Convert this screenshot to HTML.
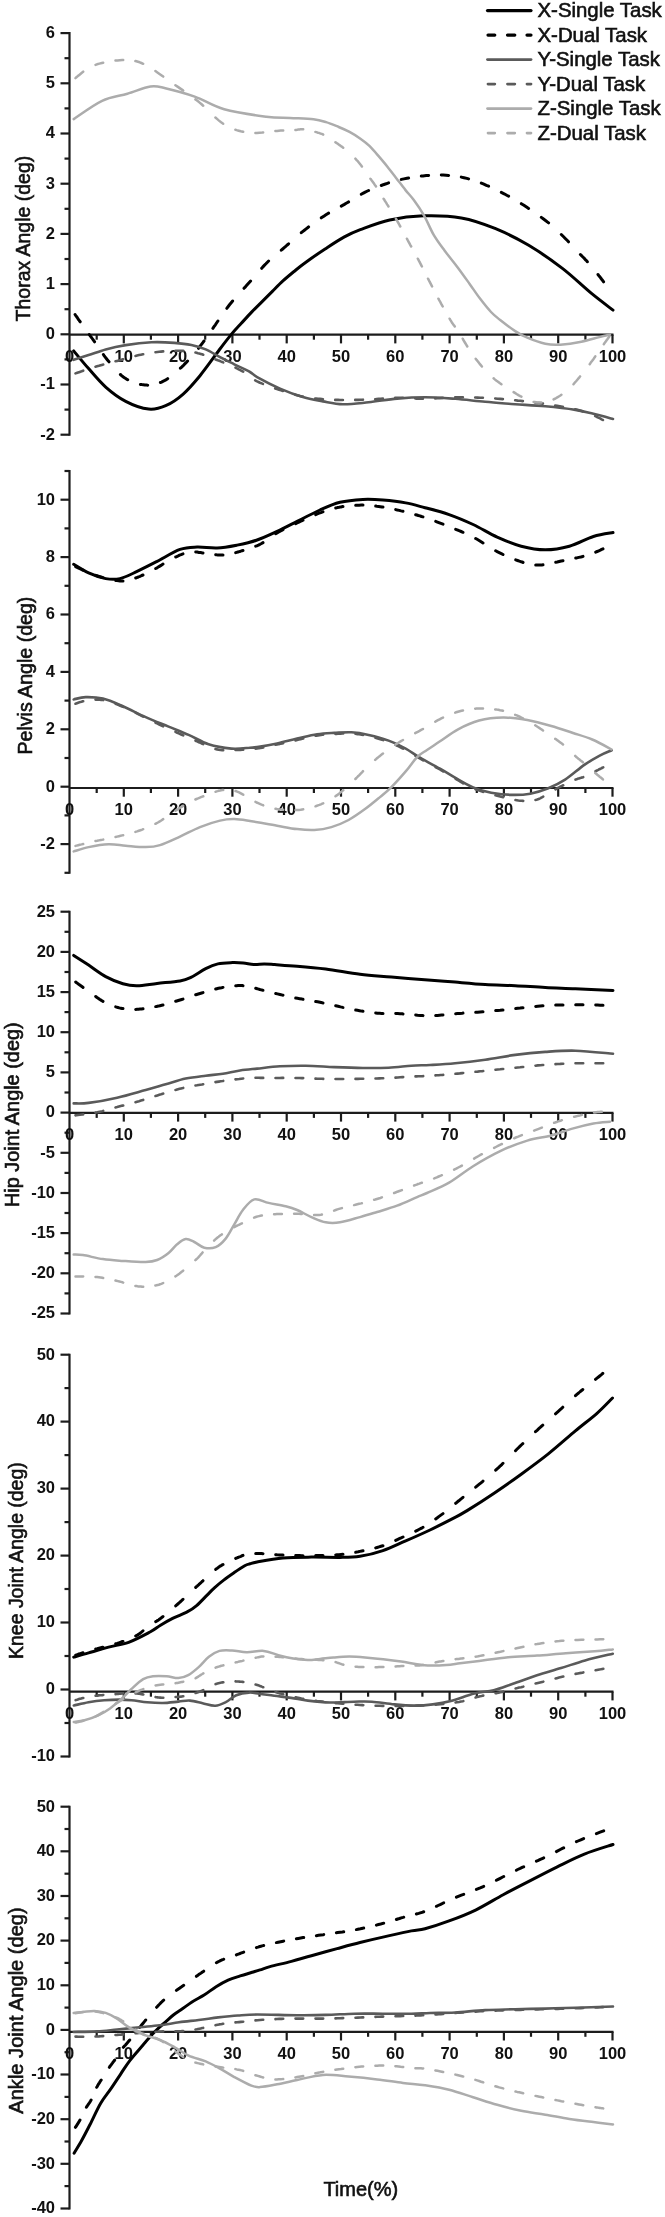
<!DOCTYPE html>
<html><head><meta charset="utf-8"><title>Joint angles</title>
<style>
html,body{margin:0;padding:0;background:#fff;}
body{width:665px;height:2217px;overflow:hidden;}
svg{display:block;filter:blur(0.5px);}
.ax{stroke:#1c1c1c;stroke-width:2.2;fill:none;}
path{fill:none;stroke-linejoin:round;stroke-linecap:round;}
.dsh{stroke-linecap:butt;}
text{font-family:"Liberation Sans",Arial,sans-serif;fill:#111;}
.tl{font-size:16.5px;font-weight:bold;}
.ti{font-size:20px;stroke:#111;stroke-width:0.6px;}
.lg{font-size:20.4px;stroke:#111;stroke-width:0.6px;}
</style></head><body>
<svg width="665" height="2217" viewBox="0 0 665 2217">
<g><line x1="69.5" y1="32.1" x2="69.5" y2="435.7" class="ax"/>
<line x1="60.5" y1="434.7" x2="69.5" y2="434.7" class="ax"/>
<text x="55" y="439.5" class="tl" text-anchor="end">-2</text>
<line x1="64.5" y1="409.6" x2="69.5" y2="409.6" class="ax"/>
<line x1="60.5" y1="384.5" x2="69.5" y2="384.5" class="ax"/>
<text x="55" y="389.3" class="tl" text-anchor="end">-1</text>
<line x1="64.5" y1="359.4" x2="69.5" y2="359.4" class="ax"/>
<line x1="60.5" y1="334.3" x2="69.5" y2="334.3" class="ax"/>
<text x="55" y="339.1" class="tl" text-anchor="end">0</text>
<line x1="64.5" y1="309.2" x2="69.5" y2="309.2" class="ax"/>
<line x1="60.5" y1="284.1" x2="69.5" y2="284.1" class="ax"/>
<text x="55" y="288.9" class="tl" text-anchor="end">1</text>
<line x1="64.5" y1="259" x2="69.5" y2="259" class="ax"/>
<line x1="60.5" y1="233.9" x2="69.5" y2="233.9" class="ax"/>
<text x="55" y="238.7" class="tl" text-anchor="end">2</text>
<line x1="64.5" y1="208.8" x2="69.5" y2="208.8" class="ax"/>
<line x1="60.5" y1="183.7" x2="69.5" y2="183.7" class="ax"/>
<text x="55" y="188.5" class="tl" text-anchor="end">3</text>
<line x1="64.5" y1="158.6" x2="69.5" y2="158.6" class="ax"/>
<line x1="60.5" y1="133.5" x2="69.5" y2="133.5" class="ax"/>
<text x="55" y="138.3" class="tl" text-anchor="end">4</text>
<line x1="64.5" y1="108.4" x2="69.5" y2="108.4" class="ax"/>
<line x1="60.5" y1="83.3" x2="69.5" y2="83.3" class="ax"/>
<text x="55" y="88.1" class="tl" text-anchor="end">5</text>
<line x1="64.5" y1="58.2" x2="69.5" y2="58.2" class="ax"/>
<line x1="60.5" y1="33.1" x2="69.5" y2="33.1" class="ax"/>
<text x="55" y="37.9" class="tl" text-anchor="end">6</text>
<line x1="69.5" y1="334.7" x2="613.5" y2="334.7" class="ax"/>
<text x="69.5" y="361.5" class="tl" text-anchor="middle">0</text>
<line x1="96.7" y1="334.7" x2="96.7" y2="339.7" class="ax"/>
<line x1="123.8" y1="334.7" x2="123.8" y2="343.4" class="ax"/>
<text x="123.8" y="361.5" class="tl" text-anchor="middle">10</text>
<line x1="150.9" y1="334.7" x2="150.9" y2="339.7" class="ax"/>
<line x1="178.1" y1="334.7" x2="178.1" y2="343.4" class="ax"/>
<text x="178.1" y="361.5" class="tl" text-anchor="middle">20</text>
<line x1="205.2" y1="334.7" x2="205.2" y2="339.7" class="ax"/>
<line x1="232.4" y1="334.7" x2="232.4" y2="343.4" class="ax"/>
<text x="232.4" y="361.5" class="tl" text-anchor="middle">30</text>
<line x1="259.5" y1="334.7" x2="259.5" y2="339.7" class="ax"/>
<line x1="286.7" y1="334.7" x2="286.7" y2="343.4" class="ax"/>
<text x="286.7" y="361.5" class="tl" text-anchor="middle">40</text>
<line x1="313.9" y1="334.7" x2="313.9" y2="339.7" class="ax"/>
<line x1="341" y1="334.7" x2="341" y2="343.4" class="ax"/>
<text x="341" y="361.5" class="tl" text-anchor="middle">50</text>
<line x1="368.1" y1="334.7" x2="368.1" y2="339.7" class="ax"/>
<line x1="395.3" y1="334.7" x2="395.3" y2="343.4" class="ax"/>
<text x="395.3" y="361.5" class="tl" text-anchor="middle">60</text>
<line x1="422.4" y1="334.7" x2="422.4" y2="339.7" class="ax"/>
<line x1="449.6" y1="334.7" x2="449.6" y2="343.4" class="ax"/>
<text x="449.6" y="361.5" class="tl" text-anchor="middle">70</text>
<line x1="476.8" y1="334.7" x2="476.8" y2="339.7" class="ax"/>
<line x1="503.9" y1="334.7" x2="503.9" y2="343.4" class="ax"/>
<text x="503.9" y="361.5" class="tl" text-anchor="middle">80</text>
<line x1="531" y1="334.7" x2="531" y2="339.7" class="ax"/>
<line x1="558.2" y1="334.7" x2="558.2" y2="343.4" class="ax"/>
<text x="558.2" y="361.5" class="tl" text-anchor="middle">90</text>
<line x1="585.4" y1="334.7" x2="585.4" y2="339.7" class="ax"/>
<line x1="612.5" y1="334.7" x2="612.5" y2="343.4" class="ax"/>
<text x="612.5" y="361.5" class="tl" text-anchor="middle">100</text>
<text transform="translate(29.8 238.6) rotate(-90)" class="ti" text-anchor="middle" textLength="165.6" lengthAdjust="spacingAndGlyphs">Thorax Angle (deg)</text>
<path d="M73.7 350.9C76.2 353.9 83.3 362.6 88.6 368.6C93.9 374.6 99.5 381.6 105.7 387.1C111.9 392.6 118.6 397.7 125.7 401.4C132.8 405.1 141.9 408.4 148.6 409.1C155.3 409.8 160 408.2 165.7 405.7C171.4 403.2 177.2 399.3 182.9 394.3C188.6 389.3 193.9 383.1 200 375.7C206.1 368.3 214 356.9 219.2 350C224.4 343.1 227.7 338.8 231.3 334.4C235 330 237.7 327.2 241.1 323.5C244.5 319.8 248.1 315.8 251.6 312.1C255.1 308.5 258.6 305.1 262.1 301.6C265.6 298.1 269.1 294.6 272.6 291.1C276.1 287.6 279.6 284 283.2 280.7C286.8 277.4 290.2 274.6 294 271.5C297.8 268.4 300.7 265.9 305.9 262.2C311.1 258.4 318.7 253.2 325.1 249C331.5 244.8 338.5 240.1 344.4 236.9C350.3 233.7 352.8 232.5 360.3 229.7C367.9 226.9 379.2 222.3 389.7 220C400.2 217.7 411.5 216.2 423.4 215.8C435.3 215.5 449.4 215.8 461.3 217.9C473.2 220 483.8 223.8 495 228.4C506.2 233 517.5 238.6 528.7 245.3C539.9 252 551.9 260.3 562.4 268.4C572.9 276.5 583.4 286.8 591.8 293.7C600.2 300.6 609.5 307.4 613 310.1" stroke="#000" stroke-width="3.0"/>
<path d="M75.1 314.5 L75.6 315.3 L76.4 316.4 L77.2 317.5 L78 318.8 L78.9 320 L79.8 321.3 L80.2 321.8M89.3 334.5 L90.2 335.8 L91.2 337.1 L92.2 338.5 L93.2 339.9 L94.3 341.4 L94.6 341.8M103.4 354.5 L104.1 355.6 L105.4 357.3 L106.7 359 L107.9 360.6 L109 361.8M120.4 374.5 L121.9 375.8 L123.4 377 L124.9 378.1 L126.5 379.1 L127.7 379.8M140.4 384.4 L141.7 384.6 L143.3 384.8 L144.9 385 L146.5 385.1 L147.7 385.2M160.4 382.5 L161.5 382.1 L162.9 381.4 L164.3 380.7 L165.8 379.9 L167.2 379 L167.7 378.6M180.4 368.2 L181.4 367.3 L182.9 365.9 L184.3 364.4 L185.8 362.9 L187.2 361.4 L187.6 361M198.5 348.3 L199.7 346.7 L200.9 345.1 L202.2 343.5 L203.4 341.8 L204 341M212.9 328.3 L214 326.7 L215.4 324.8 L216.7 322.8 L217.9 321M226.8 308.3 L228.2 306.5 L229.7 304.5 L231.2 302.7 L232.6 301M244 288.3 L244.9 287.4 L246.5 285.6 L248.1 283.8 L249.7 282 L250.6 281M261.7 268.3 L262.7 267.1 L264.3 265.4 L265.9 263.8 L267.4 262.2 L268.6 261M281.3 250.2 L282.7 249 L284.2 247.7 L285.7 246.4 L287.2 245 L288.6 243.8M301.3 232.7 L302.6 231.6 L304.4 230.2 L306.1 228.9 L307.9 227.5 L308.6 226.9M321.3 217.8 L322.5 217 L324.2 215.9 L325.9 214.8 L327.6 213.7 L328.6 213.1M341.3 206.1 L342.6 205.4 L344.4 204.4 L346.2 203.3 L348.1 202.2 L348.6 201.9M361.3 194.2 L362.9 193.3 L365.2 192.1 L367.5 191 L368.6 190.5M381.3 185.5 L383.3 184.7 L386.1 183.8 L388.6 182.9M401.3 179.4 L403.9 178.9 L407 178.3 L408.6 178M421.3 176.1 L423 175.9 L426.2 175.6 L428.6 175.4M441.3 175 L443.2 175.1 L446.1 175.2 L448.6 175.4M461.3 177.1 L464 177.7 L466.8 178.4 L468.6 178.9M481.3 183.1 L483.3 183.9 L486.4 185.3 L488.6 186.2M501.3 192.4 L504.1 193.8 L507.2 195.5 L508.6 196.2M521.3 203.7 L523.9 205.3 L526.9 207.3 L528.6 208.4M541.3 217.4 L543.2 218.8 L545.5 220.5 L547.6 222.1 L548.6 222.9M561.3 234.5 L562.3 235.5 L563.6 236.8 L565 238.2 L566.3 239.5 L567.6 240.8 L568.5 241.8M580.4 254.5 L581.3 255.4 L582.1 256.2 L582.9 257 L583.7 257.8 L584.5 258.6 L585.2 259.4 L585.9 260.2 L586.7 260.9 L587.4 261.7 L587.4 261.8M598 274.5 L598.6 275.3 L599.2 276.1 L599.9 276.9 L600.5 277.7 L601.1 278.6 L601.8 279.4 L602.4 280.3 L603.1 281.1 L603.6 281.8" stroke="#000" stroke-width="3.0"/>
<path d="M73.7 359.8C76.2 359 83.3 356.8 88.6 355.1C93.9 353.4 99.5 351.1 105.7 349.4C111.9 347.7 118.1 346.3 125.7 345.1C133.3 343.9 143.3 342.7 151.4 342.3C159.5 341.9 167.6 342.4 174.3 342.9C181 343.4 186.2 344 191.4 345.1C196.6 346.2 200.9 347.4 205.7 349.4C210.5 351.4 215.2 354.6 220 357.1C224.8 359.6 229.3 361.8 234.3 364.3C239.3 366.8 246.2 369.9 250 372C253.8 374.1 252.1 374.3 257.1 377.1C262.1 379.9 272.4 385.3 280 388.6C287.6 391.9 295.8 395 302.9 397.1C310 399.2 316.2 400.2 322.9 401.4C329.6 402.6 335.3 404.1 342.9 404.3C350.5 404.5 359.6 403.2 368.6 402.3C377.6 401.4 387.7 399.4 397.1 398.6C406.5 397.8 415.3 397.3 425 397.3C434.7 397.3 445.1 398.1 455.1 398.8C465.1 399.6 475.2 400.9 485.2 401.8C495.2 402.7 505.2 403.4 515.2 404.2C525.2 404.9 535.3 405.4 545.3 406.3C555.3 407.2 567.4 408.6 575.4 409.9C583.4 411.1 587.1 412.3 593.4 413.8C599.7 415.3 609.7 418.1 613 419" stroke="#5a5a5a" stroke-width="2.6"/>
<path d="M75.5 373.4 L76.6 373 L78.1 372.5 L79.8 371.9 L81.6 371.3 L83.2 370.7M95.5 366.7 L97 366.3 L98.9 365.8 L100.8 365.2 L102.7 364.7 L103.2 364.6M115.5 361.3 L117.1 360.9 L119 360.4 L120.9 359.9 L122.8 359.3 L123.2 359.2M135.5 355.9 L137.1 355.5 L139 355.1 L141 354.7 L142.9 354.3 L143.2 354.3M155.5 352.2 L157.4 352 L159.3 351.8 L161.1 351.6 L162.9 351.4 L163.2 351.4M175.5 350.7 L176.6 350.7 L178.2 350.7 L179.8 350.8 L181.3 350.8 L182.9 350.9 L183.2 350.9M195.5 352.6 L196.5 352.8 L197.9 353.2 L199.3 353.5 L200.7 353.9 L202.1 354.3 L203.2 354.7M215.5 359.4 L216.4 359.7 L217.8 360.3 L219.3 360.8 L220.7 361.4 L222.2 362 L223.2 362.4M235.5 367.7 L236.4 368.1 L237.8 368.8 L239.2 369.6 L240.7 370.3 L242.1 371.1 L243.2 371.7M255.2 380.4 L256 380.8 L257.1 381.4 L258.5 382 L260 382.7 L261.7 383.4 L262.9 383.9M275.2 388.4 L277 389 L279 389.7 L281 390.3 L282.9 390.9 L282.9 391M295.2 394.7 L296.2 395 L298.1 395.5 L300 396 L301.9 396.4 L302.9 396.6M315.2 398.5 L316.2 398.6 L318.1 398.8 L320 398.9 L321.9 399.1 L322.9 399.2M335.2 399.9 L336.2 399.9 L338.1 399.9 L340 400 L341.9 400 L342.9 400M355.2 399.9 L357 399.9 L358.9 399.9 L360.8 399.8 L362.6 399.8 L362.9 399.7M375.2 399.2 L376.5 399.1 L378.6 398.9 L380.7 398.7 L382.9 398.5 L382.9 398.5M395.2 397.7 L397.1 397.7 L399.3 397.7 L401.6 397.8 L402.9 397.8M415.2 398.5 L416.6 398.6 L419 398.7 L421.4 398.8 L422.9 398.8M435.2 398.4 L437.4 398.3 L439.9 398.1 L442.4 397.9 L442.9 397.9M455.2 397.3 L457.6 397.3 L460.1 397.3 L462.6 397.3 L462.9 397.3M475.2 397.5 L477.7 397.6 L480.2 397.7 L482.7 397.8 L482.9 397.8M495.2 398.5 L497.7 398.7 L500.2 398.9 L502.7 399.1 L502.9 399.1M515.2 400.3 L517.7 400.6 L520.2 400.8 L522.7 401.1 L522.9 401.1M535.2 402.5 L536.5 402.7 L539 403 L541.5 403.4 L542.9 403.6M555.2 405.5 L557.1 405.8 L559.8 406.2 L562.4 406.7 L562.9 406.8M575.2 409.3 L576.4 409.5 L578.3 410 L580 410.5 L581.7 411 L582.9 411.4M595.2 416.1 L595.9 416.4 L597.1 417 L598.3 417.6 L599.5 418.1 L600.6 418.7 L601.6 419.3 L602.6 419.8 L602.9 420" stroke="#5a5a5a" stroke-width="2.6"/>
<path d="M73.7 119.1C78.4 116 93.1 105 102.1 100.8C111 96.6 119.3 96.1 127.4 93.7C135.5 91.3 144.2 87.4 150.5 86.5C156.8 85.6 157.9 86.5 165.3 88.2C172.7 89.9 184.9 93.1 194.7 96.6C204.5 100.1 212.3 105.9 224.2 109.3C236.1 112.7 255.3 115.3 266.3 116.8C277.3 118.2 282.1 117.6 290 118C297.9 118.4 307.5 118.5 313.5 119.2C319.5 119.9 321.9 120.8 326.1 122.1C330.3 123.4 334.8 125.4 338.7 127C342.6 128.6 345.9 130 349.5 131.9C353.1 133.8 357.1 136.4 360.4 138.7C363.7 141 366.4 143 369.4 145.9C372.4 148.8 375.4 152.4 378.4 155.9C381.4 159.4 384.4 162.9 387.4 166.7C390.4 170.4 393.5 174.5 396.5 178.4C399.5 182.3 402.6 186.5 405.5 190.1C408.4 193.7 410.7 195.8 413.8 200C416.9 204.2 420.8 209.8 424.1 215.6C427.4 221.4 430.3 229.1 433.7 234.9C437.1 240.7 440.5 245.1 444.5 250.5C448.5 255.9 453.5 261.8 457.7 267.4C461.9 273 466.1 279 469.8 284.2C473.5 289.4 476.5 294 480 298.6C483.5 303.2 487.6 308.4 491 312C494.4 315.6 496.2 316.8 500.2 320C504.2 323.2 510.7 328.2 515.2 331.1C519.7 334.1 522.3 335.6 527.3 337.7C532.3 339.8 539.8 342.6 545.3 343.8C550.8 345 554.3 345.1 560.3 344.7C566.3 344.3 574.9 343 581.4 341.7C587.9 340.4 594.6 338.3 599.4 337.1C604.2 335.9 608.2 335.1 610 334.7" stroke="#acacac" stroke-width="2.5"/>
<path d="M75.5 78.1 L76.4 77.3 L77.8 76.1 L79.3 74.9 L81 73.5 L82.8 72.1 L83.2 71.7M95.5 64.9 L97 64.3 L99.4 63.6 L101.9 63 L103.2 62.7M115.5 60.6 L117.4 60.4 L119.9 60.2 L122.1 60 L123.2 60M135.4 61 L136.4 61.3 L138 61.8 L139.7 62.3 L141.4 63 L143.2 63.8 L143.2 63.8M155.4 71 L157.4 72.4 L159.5 73.9 L161.7 75.5 L163.2 76.6M175.4 85.2 L177.9 86.9 L180.4 88.6 L183 90.4 L183.2 90.6M195.4 99.4 L196.7 100.3 L199 102.1 L201.3 104 L203.2 105.7M215.4 117.5 L217 118.9 L219 120.6 L221.1 122.3 L223.2 123.7 L223.2 123.8M235.4 129.7 L236.6 130.1 L238.7 130.7 L240.8 131.3 L242.9 131.8 L243.2 131.8M255.4 133 L256.9 133 L259.5 132.8 L262.2 132.6 L263.2 132.5M275.4 131 L277 130.9 L278.9 130.7 L280.7 130.6 L282.2 130.5 L283.2 130.5M295.4 129.9 L296.1 129.9 L297 129.8 L297.9 129.6 L298.7 129.5 L299.5 129.4 L300.4 129.3 L301.2 129.3 L302.1 129.2 L303 129.2 L303.2 129.2M315.4 131.9 L316.2 132.1 L317.1 132.4 L318 132.7 L318.8 132.9 L319.6 133.2 L320.3 133.4 L321 133.7 L321.7 133.9 L322.4 134.2 L323.1 134.5 L323.2 134.6M335.4 142.2 L336 142.6 L336.9 143.2 L337.8 143.8 L338.7 144.5 L339.6 145.1 L340.5 145.7 L341.4 146.4 L342.3 147 L343.2 147.7 L343.2 147.7M355.4 158.7 L356 159.3 L356.9 160.3 L357.8 161.2 L358.6 162.2 L359.4 163.2 L360.2 164.2 L361 165.2 L361.7 166.3 L361.9 166.5M370.4 178.7 L371 179.4 L371.7 180.5 L372.5 181.5 L373.2 182.5 L374 183.6 L374.7 184.7 L375.5 185.7 L376 186.5M383.6 198.7 L384.1 199.4 L384.8 200.7 L385.6 201.9 L386.4 203.1 L387.1 204.3 L387.8 205.4 L388.5 206.5M395.9 218.7 L396.5 219.6 L397.5 221.5 L398.6 223.4 L399.7 225.5 L400.3 226.5M406.9 238.7 L407.6 240 L408.6 241.8 L409.6 243.6 L410.5 245.3 L411.2 246.5M417.8 258.7 L418.6 260.1 L419.4 261.7 L420.3 263.4 L421.2 265.1 L421.9 266.5M428 278.7 L428.8 280.1 L429.6 281.7 L430.5 283.4 L431.4 285.1 L432.1 286.5M438.4 298.7 L439.2 300.2 L440.2 301.8 L441.1 303.6 L442.1 305.4 L442.7 306.5M449.6 318.7 L450.3 319.9 L451.1 321.2 L451.8 322.3 L452.4 323.3 L453 324.1 L453.5 324.7 L453.9 325.3 L454.4 325.9 L454.8 326.5M462.7 338.7 L463.6 340.3 L464.9 342.5 L466.2 344.7 L467.3 346.5M475.7 358.7 L476.6 359.9 L478.1 361.7 L479.5 363.6 L481 365.4 L481.9 366.5M493.6 378.3 L494.5 379.1 L496.2 380.5 L498 381.8 L499.7 383.1 L501.4 384.3M513.6 392.1 L514.9 392.9 L516.6 394 L518.4 395.1 L520.2 396.1 L521.4 396.7M533.6 401.9 L534.9 402.1 L536.5 402.4 L538 402.5 L539.5 402.6 L541 402.6 L541.4 402.5M553.6 399.4 L554.3 399 L555.8 398.3 L557.3 397.4 L558.8 396.5 L560.4 395.5 L561.4 394.8M573.5 384.2 L574.7 382.8 L576.3 381 L577.8 379.2 L579.4 377.4 L580.1 376.4M589.7 364.2 L590.8 362.6 L592.2 360.8 L593.6 358.9 L594.9 357 L595.3 356.4M603.8 344.2 L604.6 343.1 L605.4 342 L606.1 341 L606.8 340 L607.4 339.2 L608 338.3 L608.6 337.6 L609 336.9 L609.4 336.4" stroke="#acacac" stroke-width="2.5"/></g>
<g><line x1="69.5" y1="470" x2="69.5" y2="873.8" class="ax"/>
<line x1="64.5" y1="872.8" x2="69.5" y2="872.8" class="ax"/>
<line x1="60.5" y1="844.1" x2="69.5" y2="844.1" class="ax"/>
<text x="55" y="848.9" class="tl" text-anchor="end">-2</text>
<line x1="64.5" y1="815.4" x2="69.5" y2="815.4" class="ax"/>
<line x1="60.5" y1="786.7" x2="69.5" y2="786.7" class="ax"/>
<text x="55" y="791.5" class="tl" text-anchor="end">0</text>
<line x1="64.5" y1="758" x2="69.5" y2="758" class="ax"/>
<line x1="60.5" y1="729.3" x2="69.5" y2="729.3" class="ax"/>
<text x="55" y="734.1" class="tl" text-anchor="end">2</text>
<line x1="64.5" y1="700.6" x2="69.5" y2="700.6" class="ax"/>
<line x1="60.5" y1="671.9" x2="69.5" y2="671.9" class="ax"/>
<text x="55" y="676.7" class="tl" text-anchor="end">4</text>
<line x1="64.5" y1="643.2" x2="69.5" y2="643.2" class="ax"/>
<line x1="60.5" y1="614.5" x2="69.5" y2="614.5" class="ax"/>
<text x="55" y="619.3" class="tl" text-anchor="end">6</text>
<line x1="64.5" y1="585.8" x2="69.5" y2="585.8" class="ax"/>
<line x1="60.5" y1="557.1" x2="69.5" y2="557.1" class="ax"/>
<text x="55" y="561.9" class="tl" text-anchor="end">8</text>
<line x1="64.5" y1="528.4" x2="69.5" y2="528.4" class="ax"/>
<line x1="60.5" y1="499.7" x2="69.5" y2="499.7" class="ax"/>
<text x="55" y="504.5" class="tl" text-anchor="end">10</text>
<line x1="64.5" y1="471" x2="69.5" y2="471" class="ax"/>
<line x1="69.5" y1="788" x2="613.5" y2="788" class="ax"/>
<text x="69.5" y="814.8" class="tl" text-anchor="middle">0</text>
<line x1="96.7" y1="788" x2="96.7" y2="793" class="ax"/>
<line x1="123.8" y1="788" x2="123.8" y2="796.7" class="ax"/>
<text x="123.8" y="814.8" class="tl" text-anchor="middle">10</text>
<line x1="150.9" y1="788" x2="150.9" y2="793" class="ax"/>
<line x1="178.1" y1="788" x2="178.1" y2="796.7" class="ax"/>
<text x="178.1" y="814.8" class="tl" text-anchor="middle">20</text>
<line x1="205.2" y1="788" x2="205.2" y2="793" class="ax"/>
<line x1="232.4" y1="788" x2="232.4" y2="796.7" class="ax"/>
<text x="232.4" y="814.8" class="tl" text-anchor="middle">30</text>
<line x1="259.5" y1="788" x2="259.5" y2="793" class="ax"/>
<line x1="286.7" y1="788" x2="286.7" y2="796.7" class="ax"/>
<text x="286.7" y="814.8" class="tl" text-anchor="middle">40</text>
<line x1="313.9" y1="788" x2="313.9" y2="793" class="ax"/>
<line x1="341" y1="788" x2="341" y2="796.7" class="ax"/>
<text x="341" y="814.8" class="tl" text-anchor="middle">50</text>
<line x1="368.1" y1="788" x2="368.1" y2="793" class="ax"/>
<line x1="395.3" y1="788" x2="395.3" y2="796.7" class="ax"/>
<text x="395.3" y="814.8" class="tl" text-anchor="middle">60</text>
<line x1="422.4" y1="788" x2="422.4" y2="793" class="ax"/>
<line x1="449.6" y1="788" x2="449.6" y2="796.7" class="ax"/>
<text x="449.6" y="814.8" class="tl" text-anchor="middle">70</text>
<line x1="476.8" y1="788" x2="476.8" y2="793" class="ax"/>
<line x1="503.9" y1="788" x2="503.9" y2="796.7" class="ax"/>
<text x="503.9" y="814.8" class="tl" text-anchor="middle">80</text>
<line x1="531" y1="788" x2="531" y2="793" class="ax"/>
<line x1="558.2" y1="788" x2="558.2" y2="796.7" class="ax"/>
<text x="558.2" y="814.8" class="tl" text-anchor="middle">90</text>
<line x1="585.4" y1="788" x2="585.4" y2="793" class="ax"/>
<line x1="612.5" y1="788" x2="612.5" y2="796.7" class="ax"/>
<text x="612.5" y="814.8" class="tl" text-anchor="middle">100</text>
<text transform="translate(31.8 675.6) rotate(-90)" class="ti" text-anchor="middle" textLength="158" lengthAdjust="spacingAndGlyphs">Pelvis Angle (deg)</text>
<path d="M73.7 564.3C76.2 565.7 83.3 570.5 88.6 572.9C93.9 575.3 100.5 577.6 105.7 578.6C110.9 579.6 114.8 579.8 120 578.6C125.2 577.4 130.9 574.3 137.1 571.4C143.3 568.5 149.9 565.1 157.1 561.4C164.2 557.7 173.3 551.8 180 549.4C186.7 547 190.9 547.3 197.1 547.1C203.3 546.9 210.4 548.3 217.1 548C223.8 547.7 230.4 546.4 237.1 545.1C243.8 543.8 250.4 542.3 257.1 540C263.8 537.7 270.4 534.5 277.1 531.4C283.8 528.3 290 525 297.1 521.4C304.2 517.8 312.9 513.2 320 510C327.1 506.8 332.9 504.1 340 502.3C347.1 500.5 355.8 499.8 362.9 499.4C370 499 375.8 499.4 382.9 500C390 500.6 398.7 501.6 405.7 502.9C412.7 504.2 417.8 505.8 425 507.7C432.2 509.6 441.1 511.8 449.1 514.6C457.1 517.4 465.1 520.8 473.1 524.5C481.1 528.2 489.2 533.5 497.2 537.1C505.2 540.7 513.2 544.1 521.2 546.2C529.2 548.3 537.3 549.8 545.3 549.8C553.3 549.8 561.4 548.4 569.4 546.2C577.4 544 586.1 538.8 593.4 536.5C600.7 534.2 609.7 533.2 613 532.6" stroke="#000" stroke-width="3.0"/>
<path d="M75.7 566.6 L76.6 567.1 L78.1 567.8 L79.8 568.6 L81.6 569.5 L83 570.1M95.7 575.4 L97.1 575.8 L99.1 576.4 L101 577 L103 577.6M115.7 580.4 L117.1 580.6 L118.6 580.8 L119.9 580.9 L121.1 581 L122.3 581 L123 581M135.7 578 L136.7 577.6 L138.4 577 L140 576.3 L141.7 575.5 L143 575M155.7 568.5 L157.1 567.8 L159 566.6 L161 565.4 L163 564.1M175.7 557 L176.7 556.6 L178.2 555.9 L179.6 555.2 L181 554.7 L182.4 554.1 L183 553.9M195.7 552 L197.2 552.1 L198.9 552.4 L200.7 552.6 L202.5 552.9 L203 553M215.7 554.7 L216.6 554.8 L217.8 554.9 L218.9 555 L220 555 L221.1 555.1 L222.3 555.1 L223 555.1M235.7 552.7 L236.6 552.4 L237.9 552 L239.3 551.6 L240.7 551.2 L242.2 550.7 L243 550.5M255.7 546.2 L256.8 545.8 L258.4 545.1 L260 544.3 L261.5 543.5 L263 542.6 L263 542.6M275.7 533.7 L277.1 532.9 L278.7 532 L280.2 531.2 L281.8 530.3 L283 529.7M295.7 523.6 L297.1 522.9 L298.9 522.1 L300.8 521.2 L302.7 520.3 L303 520.2M315.7 514.6 L317.3 513.9 L319.1 513.2 L320.9 512.6 L322.6 511.9 L323 511.8M335.7 508 L337.4 507.6 L339.1 507.3 L340.9 506.9 L342.7 506.6 L343 506.6M355.7 505.3 L357.3 505.2 L359.2 505.2 L361.1 505.1 L362.9 505.1 L363 505.1M375.7 506 L376.9 506.2 L378.6 506.4 L380.3 506.7 L382 507 L383 507.1M395.7 509.6 L397.3 510 L399.2 510.4 L401.1 510.9 L403 511.3 L403 511.3M415.7 514.7 L416.8 515 L418.3 515.5 L419.9 515.9 L421.5 516.5 L423 516.9M435.7 521.4 L436.8 521.8 L438.8 522.6 L440.9 523.4 L443 524.2 L443 524.2M455.7 529.3 L457.1 529.8 L459.1 530.7 L461.1 531.5 L463 532.3M475.7 538.5 L477.1 539.3 L479.1 540.5 L481.1 541.8 L483 543M495.7 550.8 L497.2 551.6 L499.2 552.6 L501.3 553.6 L503 554.5M515.7 559.9 L517.5 560.5 L519.4 561.2 L521.2 561.8 L522.9 562.3 L523 562.4M535.7 565.1 L536.8 565.1 L538.4 565.1 L540.2 565.1 L542 564.9 L543 564.8M555.7 562.3 L557.2 562 L559.2 561.5 L561.3 561 L563 560.7M575.7 558.1 L576.8 557.9 L578.8 557.4 L580.8 557 L582.8 556.5 L583 556.4M595.7 552.1 L597.1 551.5 L598.8 550.8 L600.3 550.1 L601.7 549.4 L603 548.8" stroke="#000" stroke-width="3.0"/>
<path d="M73.7 699.4C75.7 699 80.8 697.2 85.7 697.1C90.6 697 96.7 697.1 102.9 698.6C109.1 700.1 115.8 703.2 122.9 706.3C130 709.4 138.1 713.7 145.7 717.1C153.3 720.5 161.4 723.6 168.6 726.6C175.8 729.6 181.9 732 188.6 734.9C195.3 737.8 201.5 742 208.6 744.3C215.7 746.6 224.5 748 231.4 748.6C238.3 749.2 245.7 748 250 747.7C254.3 747.5 252.6 747.8 257.1 747.1C261.6 746.4 270.4 744.8 277.1 743.4C283.8 742 290.4 740.1 297.1 738.6C303.8 737.1 310.9 735.2 317.1 734.3C323.3 733.3 328.6 733.2 334.3 732.9C340 732.6 345.7 732 351.4 732.3C357.1 732.6 362.4 733.5 368.6 734.9C374.8 736.3 382.4 738.3 388.6 740.6C394.8 742.9 400.5 745.8 405.7 748.6C410.9 751.5 414.3 754.4 420 757.7C425.7 761.1 434.1 765.4 440 768.7C445.9 772 449.6 774.6 455.1 777.7C460.6 780.8 467.1 784.9 473.1 787.4C479.1 789.9 484.7 791.5 491.2 792.8C497.7 794 505.7 794.8 512.2 794.9C518.7 795 524.3 794.8 530.3 793.7C536.3 792.6 542.5 790.6 548.3 788.3C554.1 785.9 559 783.5 565.1 779.6C571.2 775.7 578.9 768.6 584.7 764.6C590.5 760.6 595.2 758 599.7 755.6C604.2 753.2 609.7 751.2 611.7 750.3" stroke="#5a5a5a" stroke-width="2.6"/>
<path d="M75.5 703.7 L76.3 703.4 L77.5 703 L78.7 702.6 L80.1 702.1 L81.5 701.7 L82.9 701.2 L83.2 701.2M95.5 699.6 L96.8 699.6 L98.3 699.6 L99.7 699.7 L101.2 699.9 L102.7 700 L103.2 700.1M115.5 703.7 L117 704.3 L118.7 705 L120.4 705.7 L122.2 706.5 L123.2 706.9M135.5 712.7 L136.8 713.4 L138.7 714.4 L140.7 715.4 L142.6 716.4 L143.2 716.7M155.5 722.7 L157.1 723.4 L159.3 724.5 L161.5 725.5 L163.2 726.3M175.5 731.9 L177.3 732.8 L179.3 733.6 L181.2 734.5 L183.2 735.4 L183.2 735.4M195.5 740.7 L197.1 741.4 L198.9 742.2 L200.6 742.9 L202.3 743.7 L203.2 744.1M215.5 749 L217.1 749.4 L218.8 749.7 L220.4 750 L222.1 750.1 L223.2 750.2M235.5 750 L237.1 750 L238.8 750 L240.4 749.9 L242.1 749.8 L243.2 749.8M255.5 748.7 L257.1 748.5 L258.8 748.3 L260.4 748 L262.1 747.7 L263.2 747.5M275.5 744.8 L277.1 744.5 L278.8 744.1 L280.4 743.8 L282.1 743.4 L283.2 743.2M295.5 740.4 L297.1 740 L298.8 739.6 L300.5 739.2 L302.2 738.8 L303.2 738.6M315.5 735.8 L316.3 735.6 L317.9 735.4 L319.4 735.2 L320.9 735 L322.3 734.8 L323.2 734.7M335.5 733.9 L336.4 733.9 L337.9 733.8 L339.3 733.7 L340.7 733.6 L342.1 733.5 L343.2 733.5M355.5 733.8 L356.3 733.9 L357.7 734.1 L359.1 734.2 L360.5 734.4 L361.9 734.7 L363.2 734.9M375.5 737.8 L376.9 738.2 L378.6 738.7 L380.3 739.2 L382 739.7 L383.2 740.1M395.5 744.9 L396.8 745.5 L398.2 746.2 L399.6 746.9 L401 747.6 L402.4 748.3 L403.2 748.7M415.5 755.8 L416.7 756.6 L418 757.3 L419.3 758.1 L420.7 758.9 L422.3 759.8 L423.2 760.3M435.5 767 L436.9 767.8 L438.5 768.6 L440 769.5 L441.4 770.3 L442.8 771.1 L443.2 771.4M455.5 778.7 L456.5 779.3 L457.9 780.1 L459.3 780.9 L460.7 781.8 L462.1 782.6 L463.2 783.3M475.5 789.2 L476.8 789.7 L478.7 790.4 L480.7 791.1 L482.8 791.7 L483.2 791.9M495.5 795.3 L497.2 795.8 L499.2 796.3 L501.2 796.8 L503.2 797.3 L503.2 797.3M515.5 800 L516.7 800.2 L518.4 800.5 L520 800.7 L521.5 800.8 L523 800.9 L523.2 801M535.5 799.9 L536.4 799.7 L537.2 799.5 L538 799.2 L538.7 799 L539.3 798.7 L540 798.4 L540.6 798.1 L541.3 797.7 L542 797.3 L542.8 796.9 L543.2 796.7M555.5 789.3 L556.6 788.6 L558 787.9 L559.4 787.2 L560.9 786.4 L562.5 785.6 L563.2 785.3M575.5 779.6 L576.2 779.4 L577.2 779 L578.1 778.6 L578.9 778.4 L579.6 778.2 L580.3 778 L581 777.8 L581.6 777.6 L582.2 777.5 L582.9 777.3 L583.2 777.2M595.5 771.2 L596 771 L596.9 770.5 L597.8 770.1 L598.6 769.7 L599.5 769.2 L600.4 768.8 L601.2 768.4 L601.9 768 L602.6 767.6 L603.2 767.3" stroke="#5a5a5a" stroke-width="2.6"/>
<path d="M73.7 851.4C76.2 850.7 82.8 848.3 88.6 847.1C94.4 845.9 102.4 844.5 108.6 844.3C114.8 844.1 119.5 845.2 125.7 845.7C131.9 846.2 140 847.2 145.7 847.1C151.4 847 154.3 846.9 160 845.1C165.7 843.4 173.3 839.6 180 836.6C186.7 833.6 193.3 829.8 200 827.1C206.7 824.4 214.3 821.9 220 820.6C225.7 819.3 229.3 819 234.3 819.1C239.3 819.2 242.9 819.9 250 821C257.1 822.1 269.2 824.4 277.1 825.7C285 827.1 290.9 828.4 297.1 829.1C303.3 829.8 308.6 830.3 314.3 830C320 829.7 325.7 828.8 331.4 827.1C337.1 825.4 342.9 823.1 348.6 820C354.3 816.9 360.5 812.4 365.7 808.6C370.9 804.8 375.7 800.7 380 797.1C384.3 793.5 387.1 791.4 391.4 787.1C395.7 782.8 401.4 776.4 405.7 771.4C410 766.4 413.6 760.7 417.1 757.1C420.7 753.5 423.2 752.6 427 750C430.8 747.4 434.8 744.8 440 741.3C445.2 737.8 451.6 732.8 458.1 729.3C464.6 725.8 471.6 722.5 479.1 720.5C486.6 718.5 495.2 717.6 503.2 717.5C511.2 717.4 519.3 718.6 527.3 720C535.3 721.4 543.7 723.8 551.3 726C558.9 728.2 566.2 730.8 573 733C579.8 735.2 585.8 736.8 592.2 739.5C598.7 742.2 608.5 747.8 611.7 749.5" stroke="#acacac" stroke-width="2.5"/>
<path d="M75.5 845.9 L76.6 845.6 L78.1 845.2 L79.8 844.8 L81.6 844.4 L83.2 844M95.5 841.1 L97.1 840.8 L99 840.4 L100.9 840 L102.8 839.6 L103.2 839.5M115.5 837 L117.1 836.6 L118.9 836.2 L120.6 835.8 L122.3 835.4 L123.2 835.2M135.4 831.9 L137.1 831.4 L138.8 830.8 L140.5 830.2 L142.2 829.6 L143.2 829.2M155.4 823.8 L156.3 823.3 L157.9 822.5 L159.4 821.6 L160.9 820.7 L162.3 819.7 L163.2 819.1M175.4 810.7 L176.4 810.1 L177.9 809.2 L179.3 808.3 L180.7 807.4 L182.1 806.6 L183.2 805.9M195.4 799.5 L196.5 799 L198 798.4 L199.4 797.8 L200.9 797.2 L202.4 796.6 L203.3 796.3M215.5 791.8 L216.5 791.4 L217.7 791.1 L218.8 790.7 L220 790.5 L221.1 790.2 L222.3 790.1 L223.3 790M235.5 791 L236.5 791.3 L237.8 791.8 L239.1 792.4 L240.4 793.1 L241.8 793.9 L243.2 794.7 L243.3 794.7M255.5 801.9 L256.6 802.5 L258.2 803.2 L259.8 803.9 L261.5 804.6 L263.1 805.2 L263.2 805.3M275.5 808.8 L277 809.1 L278.9 809.4 L280.8 809.6 L282.8 809.8 L283.2 809.8M295.5 810.1 L297.1 810 L298.9 809.9 L300.6 809.7 L302.4 809.4 L303.2 809.3M315.5 806.3 L316.3 806 L317.9 805.4 L319.4 804.9 L320.9 804.3 L322.3 803.7 L323.2 803.3M335.5 796.3 L336.4 795.6 L337.9 794.6 L339.3 793.5 L340.7 792.3 L342.1 791.1 L343.3 790.2M355.4 779 L356.4 778 L357.8 776.5 L359.3 775.1 L360.7 773.6 L362.2 772.1 L363 771.2M375.2 759.9 L376.4 758.8 L377.9 757.6 L379.3 756.4 L380.7 755.3 L382.1 754.1 L383 753.5M395.2 744.8 L396.2 744.1 L397.7 743.2 L399.1 742.3 L400.6 741.4 L402.1 740.5 L403 740M415.2 733.2 L416.1 732.7 L417.8 731.8 L419.5 730.9 L421.2 729.9 L422.9 729 L423 729M435.2 721.7 L436.2 721.1 L437.9 720.2 L439.6 719.3 L441.3 718.4 L443 717.6M455.2 712.6 L456.1 712.3 L457.9 711.7 L459.7 711.2 L461.5 710.7 L463 710.4M475.2 708.7 L476.4 708.6 L478.2 708.5 L479.9 708.5 L481.7 708.5 L483 708.5M495.2 709.4 L496.6 709.6 L498.3 709.8 L500.1 710.2 L501.8 710.5 L503 710.8M515.2 714.8 L516.8 715.4 L518.5 716.2 L520.3 717 L522 717.9 L523 718.4M535.2 725.3 L536.3 726 L538.2 727.2 L540 728.4 L541.7 729.6 L543 730.5M555.2 738.8 L555.9 739.2 L557.1 740.1 L558.4 741 L559.6 741.9 L560.7 742.7 L561.9 743.6 L563 744.5M575.2 755.9 L576 756.7 L576.9 757.4 L577.7 758.1 L578.4 758.7 L579.2 759.3 L579.9 759.9 L580.6 760.5 L581.3 761 L582 761.6 L582.8 762.2 L583 762.4M595.2 772.9 L595.6 773.2 L596.5 774 L597.3 774.7 L598.2 775.4 L599.1 776.2 L599.9 776.9 L600.8 777.6 L601.6 778.2 L602.3 778.8 L602.9 779.4 L603 779.4" stroke="#acacac" stroke-width="2.5"/></g>
<g><line x1="69.5" y1="910.7" x2="69.5" y2="1314.5" class="ax"/>
<line x1="60.5" y1="1313.5" x2="69.5" y2="1313.5" class="ax"/>
<text x="55" y="1318.3" class="tl" text-anchor="end">-25</text>
<line x1="64.5" y1="1293.4" x2="69.5" y2="1293.4" class="ax"/>
<line x1="60.5" y1="1273.3" x2="69.5" y2="1273.3" class="ax"/>
<text x="55" y="1278.1" class="tl" text-anchor="end">-20</text>
<line x1="64.5" y1="1253.2" x2="69.5" y2="1253.2" class="ax"/>
<line x1="60.5" y1="1233.1" x2="69.5" y2="1233.1" class="ax"/>
<text x="55" y="1237.9" class="tl" text-anchor="end">-15</text>
<line x1="64.5" y1="1213" x2="69.5" y2="1213" class="ax"/>
<line x1="60.5" y1="1193" x2="69.5" y2="1193" class="ax"/>
<text x="55" y="1197.8" class="tl" text-anchor="end">-10</text>
<line x1="64.5" y1="1172.9" x2="69.5" y2="1172.9" class="ax"/>
<line x1="60.5" y1="1152.8" x2="69.5" y2="1152.8" class="ax"/>
<text x="55" y="1157.6" class="tl" text-anchor="end">-5</text>
<line x1="64.5" y1="1132.7" x2="69.5" y2="1132.7" class="ax"/>
<line x1="60.5" y1="1112.6" x2="69.5" y2="1112.6" class="ax"/>
<text x="55" y="1117.4" class="tl" text-anchor="end">0</text>
<line x1="64.5" y1="1092.5" x2="69.5" y2="1092.5" class="ax"/>
<line x1="60.5" y1="1072.4" x2="69.5" y2="1072.4" class="ax"/>
<text x="55" y="1077.2" class="tl" text-anchor="end">5</text>
<line x1="64.5" y1="1052.3" x2="69.5" y2="1052.3" class="ax"/>
<line x1="60.5" y1="1032.2" x2="69.5" y2="1032.2" class="ax"/>
<text x="55" y="1037" class="tl" text-anchor="end">10</text>
<line x1="64.5" y1="1012.1" x2="69.5" y2="1012.1" class="ax"/>
<line x1="60.5" y1="992.1" x2="69.5" y2="992.1" class="ax"/>
<text x="55" y="996.9" class="tl" text-anchor="end">15</text>
<line x1="64.5" y1="972" x2="69.5" y2="972" class="ax"/>
<line x1="60.5" y1="951.9" x2="69.5" y2="951.9" class="ax"/>
<text x="55" y="956.7" class="tl" text-anchor="end">20</text>
<line x1="64.5" y1="931.8" x2="69.5" y2="931.8" class="ax"/>
<line x1="60.5" y1="911.7" x2="69.5" y2="911.7" class="ax"/>
<text x="55" y="916.5" class="tl" text-anchor="end">25</text>
<line x1="69.5" y1="1112.9" x2="613.5" y2="1112.9" class="ax"/>
<text x="69.5" y="1139.7" class="tl" text-anchor="middle">0</text>
<line x1="96.7" y1="1112.9" x2="96.7" y2="1117.9" class="ax"/>
<line x1="123.8" y1="1112.9" x2="123.8" y2="1121.6" class="ax"/>
<text x="123.8" y="1139.7" class="tl" text-anchor="middle">10</text>
<line x1="150.9" y1="1112.9" x2="150.9" y2="1117.9" class="ax"/>
<line x1="178.1" y1="1112.9" x2="178.1" y2="1121.6" class="ax"/>
<text x="178.1" y="1139.7" class="tl" text-anchor="middle">20</text>
<line x1="205.2" y1="1112.9" x2="205.2" y2="1117.9" class="ax"/>
<line x1="232.4" y1="1112.9" x2="232.4" y2="1121.6" class="ax"/>
<text x="232.4" y="1139.7" class="tl" text-anchor="middle">30</text>
<line x1="259.5" y1="1112.9" x2="259.5" y2="1117.9" class="ax"/>
<line x1="286.7" y1="1112.9" x2="286.7" y2="1121.6" class="ax"/>
<text x="286.7" y="1139.7" class="tl" text-anchor="middle">40</text>
<line x1="313.9" y1="1112.9" x2="313.9" y2="1117.9" class="ax"/>
<line x1="341" y1="1112.9" x2="341" y2="1121.6" class="ax"/>
<text x="341" y="1139.7" class="tl" text-anchor="middle">50</text>
<line x1="368.1" y1="1112.9" x2="368.1" y2="1117.9" class="ax"/>
<line x1="395.3" y1="1112.9" x2="395.3" y2="1121.6" class="ax"/>
<text x="395.3" y="1139.7" class="tl" text-anchor="middle">60</text>
<line x1="422.4" y1="1112.9" x2="422.4" y2="1117.9" class="ax"/>
<line x1="449.6" y1="1112.9" x2="449.6" y2="1121.6" class="ax"/>
<text x="449.6" y="1139.7" class="tl" text-anchor="middle">70</text>
<line x1="476.8" y1="1112.9" x2="476.8" y2="1117.9" class="ax"/>
<line x1="503.9" y1="1112.9" x2="503.9" y2="1121.6" class="ax"/>
<text x="503.9" y="1139.7" class="tl" text-anchor="middle">80</text>
<line x1="531" y1="1112.9" x2="531" y2="1117.9" class="ax"/>
<line x1="558.2" y1="1112.9" x2="558.2" y2="1121.6" class="ax"/>
<text x="558.2" y="1139.7" class="tl" text-anchor="middle">90</text>
<line x1="585.4" y1="1112.9" x2="585.4" y2="1117.9" class="ax"/>
<line x1="612.5" y1="1112.9" x2="612.5" y2="1121.6" class="ax"/>
<text x="612.5" y="1139.7" class="tl" text-anchor="middle">100</text>
<text transform="translate(19.2 1114.7) rotate(-90)" class="ti" text-anchor="middle" textLength="184.7" lengthAdjust="spacingAndGlyphs">Hip Joint Angle (deg)</text>
<path d="M73.7 955.4C76.2 957 83.3 961.6 88.6 965.1C93.9 968.6 100 973.5 105.7 976.6C111.4 979.7 117.7 982.2 122.9 983.7C128.1 985.2 131.4 985.8 137.1 985.7C142.8 985.7 149.9 984.2 157.1 983.4C164.2 982.6 174.3 981.9 180 980.9C185.7 979.9 187.1 979.1 191.4 977.1C195.7 975.1 201.3 970.8 205.7 968.6C210.1 966.4 213.4 964.9 217.9 963.9C222.4 962.9 228.4 962.8 232.6 962.6C236.8 962.5 239.7 962.7 243.2 963C246.7 963.3 250.2 964.2 253.7 964.4C257.2 964.6 260.7 964 264.2 964C267.7 964 269.2 964.2 274.7 964.6C280.2 965 288.6 965.5 297.1 966.3C305.6 967 315.2 967.8 325.7 969.1C336.2 970.4 349.1 973 360 974.3C370.9 975.6 380.1 976.1 391.4 977.1C402.7 978.1 417.4 979.2 428 980C438.6 980.8 445.6 981.4 455.1 982.1C464.6 982.9 475.2 983.9 485.2 984.5C495.2 985.1 505.2 985.2 515.2 985.7C525.2 986.2 535.3 987 545.3 987.5C555.3 988 564.1 988.2 575.4 988.7C586.7 989.2 606.7 990.2 613 990.5" stroke="#000" stroke-width="3.0"/>
<path d="M75.7 982 L76.3 982.5 L77.5 983.4 L78.7 984.3 L80.1 985.3 L81.5 986.3 L82.9 987.3 L83 987.4M95.7 996.5 L97 997.5 L98.5 998.5 L99.9 999.5 L101.4 1000.4 L102.8 1001.3 L103 1001.4M115.7 1006.9 L116.5 1007.1 L117.9 1007.5 L119.3 1007.9 L120.8 1008.2 L122.2 1008.5 L123 1008.6M135.7 1009.4 L137 1009.3 L138.5 1009.2 L140 1009.1 L141.6 1009 L143 1008.8M155.7 1006.6 L156.6 1006.4 L158.3 1006.1 L160 1005.7 L161.7 1005.3 L163 1005M175.7 1001.3 L176.7 1001 L178.3 1000.5 L180 1000 L181.7 999.5 L183 999.1M195.7 994.8 L196.7 994.5 L198.3 994 L200 993.5 L201.7 993 L203 992.6M215.7 989 L216.8 988.7 L218.4 988.3 L220 988 L221.6 987.7 L223 987.4M235.7 985.7 L236.7 985.7 L238 985.6 L239.2 985.6 L240.3 985.6 L241.4 985.6 L242.4 985.6 L243 985.7M255.7 988.3 L256.4 988.5 L257.4 988.8 L258.6 989.1 L259.8 989.5 L261.3 989.9 L262.9 990.3 L263 990.3M275.7 993.5 L277.4 993.9 L280 994.5 L282.6 995.1 L283 995.2M295.7 998 L297.4 998.3 L299.7 998.7 L302.1 999.1 L303 999.3M315.7 1001.5 L317.6 1001.8 L320 1002.3 L322.4 1002.8 L323 1002.9M335.7 1005.8 L338.1 1006.3 L340.5 1006.9 L342.8 1007.4 L343 1007.4M355.7 1010 L357.4 1010.3 L359.5 1010.7 L361.6 1011.1 L363 1011.3M375.7 1013 L377.5 1013.2 L379.6 1013.3 L381.7 1013.4 L383 1013.4M395.7 1013.5 L397.7 1013.6 L400 1013.7 L402.4 1013.8 L403 1013.9M415.7 1015 L417.6 1015.2 L420.2 1015.4 L422.7 1015.5 L423 1015.6M435.7 1015.6 L437.5 1015.5 L439.6 1015.3 L441.5 1015.1 L443 1015M455.7 1013.7 L457.4 1013.5 L459.8 1013.4 L462.3 1013.2 L463 1013.1M475.7 1012.3 L477.6 1012.2 L480.1 1012 L482.7 1011.8 L483 1011.8M495.7 1010.6 L497.7 1010.4 L500.2 1010.2 L502.7 1009.9 L503 1009.9M515.7 1008.5 L517.7 1008.3 L520.2 1008.1 L522.7 1007.8 L523 1007.8M535.7 1006.4 L537.8 1006.2 L540.3 1006 L542.8 1005.8 L543 1005.8M555.7 1005.1 L557.8 1005 L560.3 1004.9 L562.9 1004.9 L563 1004.9M575.7 1004.7 L578 1004.7 L580.8 1004.7 L583 1004.7M595.7 1005 L597.7 1005.1 L600.1 1005.2 L602.2 1005.2 L603 1005.2" stroke="#000" stroke-width="3.0"/>
<path d="M73.7 1103.4C76.2 1103.3 81.4 1103.8 88.6 1102.9C95.8 1102 107.6 1099.9 117.1 1097.7C126.6 1095.5 137.6 1092.2 145.7 1090C153.8 1087.8 159 1086.2 165.7 1084.3C172.4 1082.4 179 1080 185.7 1078.6C192.4 1077.2 199.5 1076.5 205.7 1075.7C211.9 1074.9 217.2 1074.6 222.9 1073.7C228.6 1072.8 234.3 1071.3 240 1070.5C245.7 1069.7 250.4 1069.3 257.1 1068.6C263.8 1067.9 271.9 1066.8 280 1066.3C288.1 1065.8 296.6 1065.6 305.7 1065.7C314.8 1065.8 324.8 1066.7 334.3 1067.1C343.8 1067.5 353.8 1067.9 362.9 1068C371.9 1068.1 380.5 1068.1 388.6 1067.7C396.7 1067.3 404.5 1066.2 411.4 1065.7C418.3 1065.2 422.7 1065.4 430 1065C437.3 1064.6 445.9 1064.2 455.1 1063.3C464.3 1062.4 475.2 1061.1 485.2 1059.7C495.2 1058.3 505.2 1056.2 515.2 1054.9C525.2 1053.6 535.3 1052.6 545.3 1051.9C555.3 1051.2 564.1 1050.4 575.4 1050.7C586.7 1051 606.7 1053.2 613 1053.7" stroke="#5a5a5a" stroke-width="2.6"/>
<path d="M75.5 1115.4 L76.3 1115.3 L78 1115 L79.9 1114.8 L82 1114.5 L83.2 1114.4M95.5 1112.6 L97.1 1112.3 L98.9 1111.9 L100.6 1111.6 L102.3 1111.2 L103.2 1110.9M115.5 1107.5 L117.1 1107.1 L118.9 1106.6 L120.7 1106.1 L122.6 1105.6 L123.2 1105.5M135.5 1102.2 L137.1 1101.7 L139 1101.2 L141 1100.6 L142.9 1100 L143.2 1099.9M155.5 1096 L157.4 1095.4 L159.3 1094.8 L161.1 1094.3 L162.9 1093.7 L163.2 1093.6M175.5 1089.9 L176.3 1089.7 L178 1089.2 L179.6 1088.8 L181.2 1088.4 L182.9 1088 L183.2 1087.9M195.5 1085.5 L196.9 1085.3 L198.6 1085 L200.3 1084.7 L202 1084.5 L203.2 1084.2M215.5 1082.1 L216.9 1081.9 L218.9 1081.6 L220.8 1081.3 L222.8 1081 L223.2 1080.9M235.5 1079.4 L237.1 1079.2 L239.2 1079 L241.2 1078.7 L243.2 1078.5M255.5 1077.8 L256.3 1077.8 L257.7 1077.8 L259 1077.8 L260.4 1077.9 L261.9 1077.9 L263.2 1077.9M275.5 1078 L277.4 1078 L279.8 1078 L282.2 1077.9 L283.2 1077.9M295.5 1078 L297.1 1078 L299.5 1078 L301.9 1078.1 L303.2 1078.1M315.5 1078.6 L317.4 1078.7 L319.7 1078.8 L322.1 1078.8 L323.2 1078.9M335.5 1079 L337.6 1079 L340 1079 L342.4 1079 L343.2 1079M355.5 1078.9 L357.9 1078.9 L360.3 1078.8 L362.6 1078.8 L363.2 1078.8M375.5 1078.5 L376.9 1078.5 L379.3 1078.4 L381.7 1078.3 L383.2 1078.3M395.5 1077.6 L397.8 1077.5 L400.2 1077.3 L402.6 1077.1 L403.2 1077.1M415.5 1076.4 L416.6 1076.4 L418.1 1076.3 L419.5 1076.3 L420.9 1076.2 L422.3 1076.2 L423.2 1076.1M435.5 1075.4 L436.7 1075.3 L438.7 1075.2 L440.8 1075 L442.9 1074.9 L443.2 1074.8M455.5 1073.8 L457.4 1073.6 L459.8 1073.4 L462.3 1073.1 L463.2 1073M475.5 1071.8 L477.6 1071.6 L480.1 1071.3 L482.7 1071.1 L483.2 1071M495.5 1069.8 L497.7 1069.5 L500.2 1069.3 L502.7 1069 L503.2 1069M515.5 1067.8 L517.7 1067.5 L520.2 1067.3 L522.7 1067 L523.2 1067M535.5 1065.7 L537.8 1065.4 L540.3 1065.2 L542.8 1065 L543.2 1065M555.5 1064.1 L557.8 1064 L560.3 1063.9 L562.9 1063.7 L563.2 1063.7M575.5 1063.3 L578 1063.2 L580.8 1063.2 L583.2 1063.2M595.5 1063.2 L597.7 1063.2 L600.1 1063.3 L602.2 1063.3 L603.2 1063.3" stroke="#5a5a5a" stroke-width="2.6"/>
<path d="M73.7 1254.6C75.2 1254.7 78 1254.4 82.9 1255.1C87.8 1255.8 96.2 1258.1 102.9 1259.1C109.6 1260.1 115.8 1260.4 122.9 1260.9C130 1261.4 140 1262.2 145.7 1262C151.4 1261.8 153.3 1261.5 157.1 1260C160.9 1258.5 165.3 1255.5 168.6 1252.9C171.9 1250.3 174.2 1246.6 177.1 1244.3C179.9 1242 182.8 1239.5 185.7 1239.1C188.6 1238.7 191.2 1240.6 194.3 1242C197.4 1243.4 200.7 1246.9 204.3 1247.7C207.9 1248.5 212.1 1248.6 215.7 1247.1C219.3 1245.6 222.6 1242.4 225.7 1238.6C228.8 1234.8 231.4 1229.1 234.3 1224.3C237.2 1219.5 239.6 1214.2 242.9 1210C246.2 1205.8 250 1200.6 254.3 1199.4C258.6 1198.2 263.4 1201.8 268.6 1202.9C273.8 1204.1 280.9 1205.1 285.7 1206.3C290.4 1207.5 292.8 1208.2 297.1 1210C301.4 1211.8 306.6 1215 311.4 1217.1C316.2 1219.1 320.9 1221.4 325.7 1222.3C330.5 1223.2 334.3 1223.2 340 1222.3C345.7 1221.4 353.8 1218.8 360 1217.1C366.2 1215.4 370.9 1213.9 377.1 1212C383.3 1210.1 390.4 1208.2 397.1 1205.7C403.8 1203.2 412.1 1199.2 417.1 1197.1C422.1 1195 421.7 1195.4 427 1193C432.3 1190.6 441.4 1187.2 449.1 1182.7C456.8 1178.2 464.6 1171.5 473.1 1166.2C481.6 1160.9 491.2 1155.4 500.2 1151.1C509.2 1146.8 518.8 1143.2 527.3 1140.6C535.8 1138 543.8 1137.5 551.3 1135.5C558.8 1133.5 565.4 1130.6 572.4 1128.6C579.4 1126.6 587.1 1124.7 593.4 1123.5C599.7 1122.3 607.2 1122 610 1121.7" stroke="#acacac" stroke-width="2.5"/>
<path d="M75.5 1276.4 L76.3 1276.4 L78 1276.4 L79.9 1276.4 L82 1276.4 L83.2 1276.5M95.5 1276.9 L97.1 1277.1 L98.9 1277.3 L100.7 1277.5 L102.4 1277.8 L103.2 1278M115.5 1280.5 L116.3 1280.7 L117.9 1281.1 L119.4 1281.5 L121 1281.9 L122.5 1282.3 L123.2 1282.6M135.4 1285.9 L136.5 1286.1 L137.5 1286.3 L138.4 1286.4 L139.3 1286.5 L140.2 1286.6 L141 1286.6 L141.9 1286.7 L142.8 1286.7 L143.2 1286.7M155.4 1285.5 L156.4 1285.3 L157.6 1285 L158.8 1284.7 L160 1284.3 L161.2 1283.9 L162.4 1283.4 L163.2 1283M175.4 1276.4 L176.4 1275.8 L177.4 1275.1 L178.3 1274.4 L179.3 1273.7 L180.2 1273 L181.1 1272.3 L182 1271.6 L182.9 1270.9 L183.2 1270.6M195.4 1260.2 L196.1 1259.5 L197.1 1258.6 L198.1 1257.6 L199 1256.6 L200 1255.5 L200.9 1254.4 L201.9 1253.3 L202.6 1252.4M214.1 1240.6 L214.8 1239.9 L215.7 1239.1 L216.7 1238.3 L217.6 1237.5 L218.6 1236.8 L219.5 1236.1 L220.5 1235.3 L221.4 1234.7 L221.9 1234.4M234.1 1227.2 L234.7 1226.9 L235.6 1226.4 L236.5 1225.9 L237.4 1225.5 L238.4 1225 L239.3 1224.6 L240.3 1224.1 L241.3 1223.6 L241.9 1223.4M254.1 1217.6 L255.2 1217.2 L256.4 1216.8 L257.8 1216.4 L259.1 1216.1 L260.4 1215.8 L261.7 1215.6 L261.9 1215.6M274.1 1214.3 L275.1 1214.2 L276.9 1214.1 L278.7 1214 L280.5 1213.9 L281.9 1213.9M294.1 1213.7 L295.2 1213.7 L297.1 1213.7 L299 1213.8 L300.9 1213.9 L301.9 1214M314.1 1215.1 L315.4 1215.1 L317.3 1215.1 L319.1 1215 L320.9 1214.8 L321.9 1214.6M334.1 1210.6 L335.7 1210 L337.4 1209.4 L339.1 1208.9 L340.9 1208.4 L341.9 1208.1M354.1 1205.1 L355.4 1204.8 L357.3 1204.3 L359.2 1203.8 L361.1 1203.4 L361.9 1203.2M374.1 1199.8 L375.3 1199.5 L376.9 1199 L378.6 1198.5 L380.3 1198 L381.9 1197.4M394.1 1193 L395.5 1192.5 L397.4 1191.7 L399.4 1191 L401.3 1190.3 L401.9 1190.1M414.1 1185.5 L415.2 1185.1 L416.7 1184.6 L418 1184 L419.4 1183.6 L420.6 1183.1 L421.8 1182.7 L421.9 1182.7M434.1 1178.5 L434.9 1178.1 L436.8 1177.4 L438.7 1176.5 L440.8 1175.7 L441.9 1175.2M454.1 1169.7 L456.2 1168.7 L458.3 1167.5 L460.5 1166.4 L461.9 1165.6M474.1 1158.6 L476.2 1157.3 L478.6 1156 L480.9 1154.7 L481.9 1154.2M494.1 1147.9 L495.9 1147 L498.4 1145.7 L501 1144.4 L501.9 1144M514.1 1138.3 L515.8 1137.5 L518.2 1136.6 L520.6 1135.6 L521.9 1135.1M534.1 1130.6 L535.3 1130.1 L537.4 1129.3 L539.3 1128.6 L541.1 1127.9 L541.9 1127.6M554.1 1122.8 L555.1 1122.5 L556.6 1122 L558.1 1121.4 L559.6 1121 L561.1 1120.5 L561.9 1120.2M574.1 1116.8 L575.4 1116.5 L576.9 1116.1 L578.4 1115.7 L580 1115.4 L581.5 1115 L581.9 1114.9M594.1 1112.5 L594.8 1112.4 L596.3 1112.2 L597.7 1112.1 L599.2 1112 L600.7 1111.8 L601.9 1111.8" stroke="#acacac" stroke-width="2.5"/></g>
<g><line x1="69.5" y1="1353.7" x2="69.5" y2="1757.5" class="ax"/>
<line x1="60.5" y1="1756.5" x2="69.5" y2="1756.5" class="ax"/>
<text x="55" y="1761.3" class="tl" text-anchor="end">-10</text>
<line x1="64.5" y1="1723" x2="69.5" y2="1723" class="ax"/>
<line x1="60.5" y1="1689.5" x2="69.5" y2="1689.5" class="ax"/>
<text x="55" y="1694.3" class="tl" text-anchor="end">0</text>
<line x1="64.5" y1="1656" x2="69.5" y2="1656" class="ax"/>
<line x1="60.5" y1="1622.5" x2="69.5" y2="1622.5" class="ax"/>
<text x="55" y="1627.3" class="tl" text-anchor="end">10</text>
<line x1="64.5" y1="1589" x2="69.5" y2="1589" class="ax"/>
<line x1="60.5" y1="1555.6" x2="69.5" y2="1555.6" class="ax"/>
<text x="55" y="1560.4" class="tl" text-anchor="end">20</text>
<line x1="64.5" y1="1522.1" x2="69.5" y2="1522.1" class="ax"/>
<line x1="60.5" y1="1488.6" x2="69.5" y2="1488.6" class="ax"/>
<text x="55" y="1493.4" class="tl" text-anchor="end">30</text>
<line x1="64.5" y1="1455.1" x2="69.5" y2="1455.1" class="ax"/>
<line x1="60.5" y1="1421.6" x2="69.5" y2="1421.6" class="ax"/>
<text x="55" y="1426.4" class="tl" text-anchor="end">40</text>
<line x1="64.5" y1="1388.1" x2="69.5" y2="1388.1" class="ax"/>
<line x1="60.5" y1="1354.7" x2="69.5" y2="1354.7" class="ax"/>
<text x="55" y="1359.5" class="tl" text-anchor="end">50</text>
<line x1="69.5" y1="1691.7" x2="613.5" y2="1691.7" class="ax"/>
<text x="69.5" y="1718.5" class="tl" text-anchor="middle">0</text>
<line x1="96.7" y1="1691.7" x2="96.7" y2="1696.7" class="ax"/>
<line x1="123.8" y1="1691.7" x2="123.8" y2="1700.4" class="ax"/>
<text x="123.8" y="1718.5" class="tl" text-anchor="middle">10</text>
<line x1="150.9" y1="1691.7" x2="150.9" y2="1696.7" class="ax"/>
<line x1="178.1" y1="1691.7" x2="178.1" y2="1700.4" class="ax"/>
<text x="178.1" y="1718.5" class="tl" text-anchor="middle">20</text>
<line x1="205.2" y1="1691.7" x2="205.2" y2="1696.7" class="ax"/>
<line x1="232.4" y1="1691.7" x2="232.4" y2="1700.4" class="ax"/>
<text x="232.4" y="1718.5" class="tl" text-anchor="middle">30</text>
<line x1="259.5" y1="1691.7" x2="259.5" y2="1696.7" class="ax"/>
<line x1="286.7" y1="1691.7" x2="286.7" y2="1700.4" class="ax"/>
<text x="286.7" y="1718.5" class="tl" text-anchor="middle">40</text>
<line x1="313.9" y1="1691.7" x2="313.9" y2="1696.7" class="ax"/>
<line x1="341" y1="1691.7" x2="341" y2="1700.4" class="ax"/>
<text x="341" y="1718.5" class="tl" text-anchor="middle">50</text>
<line x1="368.1" y1="1691.7" x2="368.1" y2="1696.7" class="ax"/>
<line x1="395.3" y1="1691.7" x2="395.3" y2="1700.4" class="ax"/>
<text x="395.3" y="1718.5" class="tl" text-anchor="middle">60</text>
<line x1="422.4" y1="1691.7" x2="422.4" y2="1696.7" class="ax"/>
<line x1="449.6" y1="1691.7" x2="449.6" y2="1700.4" class="ax"/>
<text x="449.6" y="1718.5" class="tl" text-anchor="middle">70</text>
<line x1="476.8" y1="1691.7" x2="476.8" y2="1696.7" class="ax"/>
<line x1="503.9" y1="1691.7" x2="503.9" y2="1700.4" class="ax"/>
<text x="503.9" y="1718.5" class="tl" text-anchor="middle">80</text>
<line x1="531" y1="1691.7" x2="531" y2="1696.7" class="ax"/>
<line x1="558.2" y1="1691.7" x2="558.2" y2="1700.4" class="ax"/>
<text x="558.2" y="1718.5" class="tl" text-anchor="middle">90</text>
<line x1="585.4" y1="1691.7" x2="585.4" y2="1696.7" class="ax"/>
<line x1="612.5" y1="1691.7" x2="612.5" y2="1700.4" class="ax"/>
<text x="612.5" y="1718.5" class="tl" text-anchor="middle">100</text>
<text transform="translate(23.4 1560.6) rotate(-90)" class="ti" text-anchor="middle" textLength="196.6" lengthAdjust="spacingAndGlyphs">Knee Joint Angle (deg)</text>
<path d="M73.7 1657.1C76.2 1656.4 82.8 1654.6 88.6 1652.9C94.4 1651.2 101.9 1648.9 108.6 1647.1C115.3 1645.3 121.7 1644.8 128.6 1642.3C135.5 1639.8 144.7 1634.8 150 1632C155.3 1629.2 156.7 1627.5 160.5 1625.2C164.3 1622.9 168.1 1620.7 172.6 1618.4C177.1 1616.2 183.6 1613.8 187.6 1611.7C191.6 1609.6 193.3 1608.4 196.6 1605.6C199.8 1602.8 204.1 1598.1 207.1 1595.1C210.1 1592.1 211.9 1590.1 214.7 1587.6C217.5 1585.1 220.4 1582.6 223.7 1580.1C226.9 1577.6 230.7 1575 234.2 1572.6C237.7 1570.2 242.1 1567.3 244.7 1565.8C247.3 1564.3 247.9 1564.4 250 1563.8C252.1 1563.2 251.6 1563 257.1 1562C262.6 1561 273.8 1558.8 282.9 1558C291.9 1557.2 301.9 1557.2 311.4 1557.1C320.9 1557 331.9 1557.5 340 1557.4C348.1 1557.3 352.9 1557.4 360 1556.3C367.1 1555.2 375.3 1553.2 382.9 1550.6C390.5 1548 397.8 1544.3 405.7 1540.9C413.6 1537.5 421.8 1533.9 430 1530C438.2 1526.1 448.9 1520.6 455.1 1517.4C461.3 1514.2 460.6 1514.6 467.1 1510.6C473.6 1506.6 485.1 1499.3 494.1 1493.2C503.1 1487.1 512.2 1480.8 521.2 1474.2C530.2 1467.7 539.3 1461.1 548.3 1453.9C557.3 1446.7 567.3 1437.7 575.4 1430.9C583.5 1424.1 590.8 1418.8 597 1413.3C603.2 1407.8 609.9 1400.5 612.5 1398" stroke="#000" stroke-width="3.0"/>
<path d="M75.7 1655.1 L76.6 1654.8 L78.1 1654.3 L79.8 1653.8 L81.6 1653.2 L83 1652.8M95.7 1649 L97.1 1648.7 L99 1648.2 L100.9 1647.7 L102.8 1647.2 L103 1647.2M115.7 1643.8 L117.1 1643.4 L118.9 1642.8 L120.7 1642.2 L122.5 1641.5 L123 1641.4M135.7 1636 L136.4 1635.6 L137.8 1634.8 L139 1634 L140.1 1633.2 L141.2 1632.4 L142.2 1631.5 L143 1630.8M155.7 1621.6 L156.1 1621.4 L156.9 1620.9 L157.8 1620.4 L158.6 1619.9 L159.4 1619.3 L160.2 1618.7 L161.1 1618.1 L161.9 1617.4 L162.8 1616.7 L163 1616.5M175.7 1605.9 L176.5 1605.2 L177.3 1604.5 L178.2 1603.7 L179 1603 L179.8 1602.2 L180.7 1601.5 L181.5 1600.7 L182.3 1599.9 L183 1599.3M195.7 1587.4 L196.3 1586.8 L197.2 1586.1 L198 1585.3 L198.8 1584.6 L199.6 1583.8 L200.4 1583.1 L201.3 1582.3 L202.1 1581.5 L202.9 1580.8 L203 1580.7M215.7 1569.4 L216.4 1568.8 L217.3 1568.2 L218.1 1567.6 L218.9 1567 L219.7 1566.4 L220.6 1565.9 L221.4 1565.4 L222.3 1564.9 L223 1564.5M235.7 1558.4 L236.3 1558.1 L237.1 1557.8 L237.9 1557.5 L238.7 1557.2 L239.4 1556.9 L240.2 1556.6 L240.9 1556.3 L241.5 1556 L242.2 1555.7 L242.8 1555.5 L243 1555.4M255.7 1553.4 L256.4 1553.4 L257.9 1553.4 L259.6 1553.5 L261.4 1553.6 L263 1553.7M275.7 1554.7 L277.1 1554.8 L279.4 1554.9 L281.8 1555 L283 1555.1M295.7 1555.5 L297 1555.6 L299.4 1555.6 L301.8 1555.7 L303 1555.7M315.7 1555.6 L317.5 1555.6 L320 1555.6 L322.5 1555.5 L323 1555.5M335.7 1554.9 L336.8 1554.8 L339 1554.7 L341 1554.5 L342.9 1554.3 L343 1554.3M355.7 1552.3 L356.6 1552.1 L358.3 1551.8 L360 1551.4 L361.8 1551 L363 1550.8M375.7 1547.9 L377.1 1547.5 L379.1 1546.9 L381 1546.3 L382.9 1545.7 L383 1545.7M395.7 1540.4 L397.4 1539.6 L399.3 1538.7 L401.1 1537.9 L403 1537 L403 1537M415.7 1531.1 L417.3 1530.3 L418.9 1529.5 L420.5 1528.7 L422.2 1527.8 L423 1527.3M435.7 1518.9 L437 1518 L439.1 1516.4 L441.2 1514.9 L443 1513.6M455.7 1503.3 L456.5 1502.7 L457.5 1501.8 L458.8 1500.8 L460.2 1499.6 L461.7 1498.4 L463 1497.3M475.7 1487.2 L477.5 1485.7 L479.3 1484.2 L481 1482.8 L482.8 1481.3 L483 1481.1M495.7 1470.2 L497.1 1468.9 L498.8 1467.4 L500.4 1465.8 L502 1464.3 L503 1463.3M515.5 1450.7 L516.9 1449.3 L518.5 1447.7 L520.1 1446.1 L521.8 1444.5 L522.8 1443.6M535.5 1431.7 L537.1 1430.3 L538.8 1428.7 L540.5 1427.2 L542.2 1425.6 L542.8 1425.1M555.5 1413.8 L556.6 1412.8 L558.3 1411.3 L559.9 1409.9 L561.6 1408.4 L562.8 1407.2M575.5 1395.7 L576.9 1394.4 L578.6 1393 L580.3 1391.5 L582.2 1390 L582.8 1389.5M595.5 1379.4 L597 1378.2 L598.5 1377 L599.7 1376 L600.8 1375.1 L601.7 1374.4 L602.5 1373.7 L602.8 1373.4" stroke="#000" stroke-width="3.0"/>
<path d="M73.8 1705.5C76.2 1705 83.5 1703.1 88.5 1702.2C93.5 1701.3 98.9 1700.6 104.1 1700.2C109.3 1699.8 115.1 1699.6 119.7 1699.6C124.3 1699.6 126.9 1699.8 131.5 1700.2C136.1 1700.6 141.9 1701.7 147.1 1702.2C152.3 1702.7 157.6 1703.1 162.8 1703C168 1702.9 173.9 1702 178.4 1701.6C182.9 1701.2 186 1700.3 190 1700.6C194 1700.9 198.4 1702.3 202.6 1703.2C206.8 1704.1 211.4 1705.9 215.3 1705.7C219.2 1705.5 222.3 1703.8 225.8 1702.1C229.3 1700.3 232.5 1696.8 236.3 1695.2C240.2 1693.6 245 1692.8 248.9 1692.6C252.8 1692.3 255.3 1693.2 259.5 1693.7C263.7 1694.2 268.9 1695.1 274.2 1695.8C279.5 1696.5 285.5 1697.1 291.1 1697.9C296.7 1698.7 301.4 1699.8 307.9 1700.6C314.4 1701.4 322.4 1702.3 330 1702.5C337.6 1702.7 346.8 1701.8 353.8 1701.7C360.8 1701.6 365.1 1701.2 371.9 1701.7C378.7 1702.2 387.3 1703.8 394.4 1704.4C401.5 1705.1 408.3 1705.6 414.7 1705.6C421.1 1705.6 426.8 1705.2 432.8 1704.4C438.8 1703.6 443.9 1702.8 450.8 1701C457.7 1699.2 467.2 1695.3 474.4 1693.5C481.5 1691.7 487.3 1691.9 493.7 1690.3C500.1 1688.7 505.7 1686.3 512.9 1683.8C520.1 1681.3 529 1677.9 537 1675.3C545 1672.7 553.1 1670.6 561.1 1668.1C569.1 1665.6 576.5 1662.8 585.1 1660.4C593.7 1658 608.2 1654.8 612.8 1653.7" stroke="#5a5a5a" stroke-width="2.6"/>
<path d="M75.6 1700.1 L76.1 1699.9 L77 1699.7 L77.9 1699.4 L78.9 1699.1 L79.9 1698.8 L81 1698.6 L82 1698.3 L83 1698 L83.3 1698M95.6 1695.8 L96.3 1695.7 L97.5 1695.6 L98.7 1695.4 L99.9 1695.3 L101.2 1695.2 L102.5 1695.1 L103.3 1695M115.6 1694.1 L116.6 1694 L118 1693.9 L119.3 1693.7 L120.7 1693.6 L122 1693.5 L123.3 1693.4M135.6 1693.4 L136.3 1693.4 L137.3 1693.5 L138.3 1693.7 L139.3 1693.8 L140.4 1694 L141.5 1694.2 L142.7 1694.4 L143.3 1694.5M155.6 1697.1 L156.1 1697.2 L156.9 1697.3 L157.6 1697.4 L158.4 1697.5 L159.2 1697.5 L159.9 1697.6 L160.7 1697.6 L161.5 1697.7 L162.4 1697.7 L163.3 1697.7 L163.3 1697.7M175.6 1697 L176.4 1697 L177.3 1696.9 L178.2 1696.8 L179.1 1696.8 L180.1 1696.7 L181 1696.6 L182 1696.5 L182.9 1696.3 L183.3 1696.3M195.6 1693 L196.5 1692.7 L197.9 1692.2 L199.3 1691.7 L200.7 1691.2 L202 1690.7 L203.2 1690.3 L203.3 1690.2M215.6 1684.1 L216.4 1683.9 L217.4 1683.5 L218.5 1683.2 L219.5 1683 L220.6 1682.8 L221.6 1682.6 L222.7 1682.4 L223.3 1682.3M235.6 1681.4 L236.3 1681.5 L237.3 1681.5 L238.4 1681.5 L239.4 1681.6 L240.5 1681.7 L241.6 1681.8 L242.6 1681.9 L243.3 1682M255.6 1684.5 L256.4 1684.7 L257.3 1685 L258.2 1685.3 L259 1685.6 L259.9 1685.9 L260.7 1686.3 L261.6 1686.6 L262.4 1686.9 L263.3 1687.2 L263.3 1687.3M275.6 1692.1 L276.1 1692.2 L277 1692.5 L277.9 1692.8 L278.8 1693.1 L279.7 1693.4 L280.7 1693.6 L281.7 1693.9 L282.9 1694.2 L283.3 1694.3M295.6 1697.2 L297.3 1697.6 L299.3 1698 L301.4 1698.5 L303.3 1698.8M315.6 1700.8 L317 1701 L319.5 1701.3 L322 1701.6 L323.3 1701.8M335.6 1703.1 L337.5 1703.3 L340 1703.5 L342.5 1703.7 L343.3 1703.8M355.6 1704.7 L357.5 1704.8 L360 1705 L362.5 1705.1 L363.3 1705.2M375.6 1705.7 L377.5 1705.8 L380 1705.8 L382.5 1705.9 L383.3 1705.9M395.6 1706 L397.5 1706 L400 1706 L402.5 1706 L403.3 1706M415.6 1705.7 L417.5 1705.6 L420 1705.6 L422.5 1705.4 L423.3 1705.4M435.6 1704.6 L437.8 1704.4 L440.4 1704.2 L443 1703.9 L443.3 1703.9M455.6 1702.5 L456.8 1702.3 L459 1702 L461 1701.6 L462.9 1701.2 L463.3 1701.1M475.6 1697.5 L476.9 1697.1 L478.4 1696.7 L480 1696.3 L481.6 1696 L483.2 1695.6 L483.3 1695.6M495.6 1693.3 L496.8 1693.1 L498.5 1692.7 L500.2 1692.3 L502 1691.9 L503.3 1691.6M515.6 1688.5 L517.4 1688.1 L519.2 1687.6 L521.2 1687.2 L523.1 1686.7 L523.3 1686.6M535.6 1683.5 L536.9 1683.2 L539 1682.7 L541.1 1682.2 L543.2 1681.7 L543.3 1681.6M555.6 1678.5 L556.8 1678.2 L559 1677.6 L561.2 1677.1 L563.3 1676.6M575.6 1673.9 L577.8 1673.5 L581 1672.9 L583.3 1672.4M595.6 1670.2 L598.2 1669.7 L600.7 1669.3 L602.7 1668.9 L603.3 1668.8" stroke="#5a5a5a" stroke-width="2.6"/>
<path d="M73.8 1722.1C75.6 1721.8 80.4 1721.3 84.5 1720.2C88.6 1719.1 94 1717.3 98.2 1715.3C102.5 1713.3 106.1 1711.2 110 1708.4C113.9 1705.6 118.1 1702 121.7 1698.7C125.3 1695.5 127.9 1692.2 131.5 1688.9C135.1 1685.6 139.6 1681.2 143.2 1679.1C146.8 1677 149.1 1676.7 153 1676.2C156.9 1675.7 162.5 1675.9 166.7 1676.2C170.9 1676.5 174.8 1678.3 178.4 1678.1C182 1677.9 184.9 1677 188.2 1675.2C191.5 1673.4 194.9 1670.5 198.4 1667.4C201.9 1664.3 205.4 1659.5 208.9 1656.8C212.4 1654 215.6 1652 219.5 1650.9C223.4 1649.9 227.5 1650.3 232.1 1650.5C236.7 1650.7 241.5 1652.1 246.8 1652.2C252.1 1652.3 258.4 1650.4 263.7 1650.9C269 1651.4 273.5 1653.9 278.4 1655.2C283.3 1656.5 288.3 1657.7 293.2 1658.5C298.1 1659.3 303.4 1659.9 307.9 1660C312.4 1660.1 315.7 1659.3 320 1658.9C324.3 1658.5 328.6 1657.9 333.5 1657.5C338.4 1657.1 344 1656.6 349.3 1656.6C354.6 1656.6 359.5 1657 365.1 1657.5C370.8 1658 377.2 1658.6 383.2 1659.3C389.2 1660 395.6 1660.8 401.2 1661.6C406.8 1662.4 412.1 1663.6 417 1664.3C421.9 1665 425.6 1665.5 430.5 1665.6C435.4 1665.7 441.4 1665.4 446.3 1665C451.2 1664.6 454.5 1664 460 1663.3C465.5 1662.6 471.2 1661.9 479.2 1660.9C487.2 1659.9 498.5 1658.2 508.1 1657.3C517.7 1656.4 527.4 1656.3 537 1655.6C546.6 1654.9 556.3 1653.9 565.9 1653.2C575.5 1652.5 586.9 1651.9 594.7 1651.3C602.5 1650.7 609.8 1649.7 612.8 1649.4" stroke="#acacac" stroke-width="2.5"/>
<path d="M75.5 1722.6 L76.7 1722.4 L78.2 1722 L79.9 1721.6 L81.7 1721.2 L83.3 1720.8M95.5 1716.5 L97.1 1715.7 L99 1714.6 L101 1713.4 L102.9 1712.2 L103.3 1711.9M115.5 1703.9 L117.1 1702.9 L118.7 1701.9 L120.3 1701 L121.7 1700 L123.1 1699.2 L123.3 1699M135.6 1692.3 L136.7 1691.8 L138.3 1691.1 L139.9 1690.4 L141.6 1689.8 L143.3 1689.1 L143.3 1689.1M155.6 1685.4 L156.9 1685.2 L158.6 1684.9 L160.4 1684.7 L162.2 1684.5 L163.3 1684.4M175.6 1683.2 L176.2 1683.1 L177.4 1682.9 L178.5 1682.7 L179.5 1682.5 L180.5 1682.3 L181.5 1682.1 L182.4 1681.9 L183.3 1681.8 L183.3 1681.7M195.6 1678.3 L196.2 1677.9 L197 1677.4 L197.9 1676.9 L198.7 1676.3 L199.6 1675.7 L200.5 1675.1 L201.4 1674.5 L202.3 1674 L203.3 1673.4 L203.4 1673.3M215.6 1667.7 L216.2 1667.4 L217.4 1667 L218.7 1666.6 L220 1666.2 L221.3 1665.8 L222.7 1665.5 L223.4 1665.3M235.6 1662.4 L236.3 1662.2 L237.8 1661.9 L239.3 1661.5 L240.7 1661.2 L242.2 1660.9 L243.4 1660.6M255.6 1657.8 L256.5 1657.6 L257.4 1657.4 L258.4 1657.2 L259.4 1657 L260.4 1656.8 L261.4 1656.6 L262.5 1656.5 L263.4 1656.4M275.6 1656.7 L276.3 1656.7 L277.8 1656.8 L279.2 1656.9 L280.8 1657.1 L282.3 1657.2 L283.4 1657.3M295.6 1658.6 L296.6 1658.7 L298.3 1658.9 L300 1659 L301.7 1659.1 L303.4 1659.2M315.6 1659.7 L317 1659.8 L318.6 1659.9 L320 1660 L321.4 1660.1 L322.6 1660.2 L323.4 1660.3M335.6 1662.1 L336.3 1662.3 L337.3 1662.7 L338.4 1663 L339.5 1663.4 L340.6 1663.8 L341.7 1664.2 L342.8 1664.5 L343.4 1664.7M355.6 1666.7 L357.1 1666.8 L358.6 1666.9 L360.2 1667 L361.8 1667.1 L363.4 1667.1M375.6 1667.2 L377.1 1667.2 L379 1667.1 L381 1667 L382.9 1667 L383.4 1667M395.6 1666.4 L397.5 1666.3 L399.5 1666.2 L401.5 1666.1 L403.4 1666M415.6 1665.4 L416.5 1665.4 L417.6 1665.4 L418.6 1665.4 L419.6 1665.4 L420.6 1665.3 L421.6 1665.2 L422.7 1665.1 L423.4 1665.1M435.6 1662.4 L436.2 1662.2 L437.3 1662 L438.4 1661.8 L439.5 1661.6 L440.7 1661.4 L441.8 1661.2 L442.9 1661 L443.4 1660.9M455.6 1659.2 L456.4 1659.1 L457.5 1659 L458.6 1658.9 L459.8 1658.7 L460.9 1658.6 L462.1 1658.5 L463.2 1658.3 L463.4 1658.3M475.6 1656.7 L476.7 1656.6 L478.3 1656.3 L480.1 1655.9 L482.1 1655.5 L483.4 1655.3M495.6 1652.8 L497.9 1652.2 L500.5 1651.7 L503.1 1651.1 L503.4 1651.1M515.5 1648.5 L517.7 1648 L520.1 1647.5 L522.5 1647 L523.4 1646.8M535.5 1644.3 L537 1644.1 L539.4 1643.7 L541.7 1643.3 L543.4 1643.1M555.5 1641.4 L556.8 1641.3 L559.3 1641.1 L561.8 1640.8 L563.4 1640.7M575.5 1640 L577.6 1639.9 L581.3 1639.8 L583.4 1639.7M595.5 1639.4 L597.3 1639.4 L600.1 1639.3 L602.5 1639.3 L603.3 1639.2" stroke="#acacac" stroke-width="2.5"/></g>
<g><line x1="69.5" y1="1805.7" x2="69.5" y2="2209.5" class="ax"/>
<line x1="60.5" y1="2208.5" x2="69.5" y2="2208.5" class="ax"/>
<text x="55" y="2213.3" class="tl" text-anchor="end">-40</text>
<line x1="64.5" y1="2186.1" x2="69.5" y2="2186.1" class="ax"/>
<line x1="60.5" y1="2163.8" x2="69.5" y2="2163.8" class="ax"/>
<text x="55" y="2168.6" class="tl" text-anchor="end">-30</text>
<line x1="64.5" y1="2141.5" x2="69.5" y2="2141.5" class="ax"/>
<line x1="60.5" y1="2119.2" x2="69.5" y2="2119.2" class="ax"/>
<text x="55" y="2124" class="tl" text-anchor="end">-20</text>
<line x1="64.5" y1="2096.9" x2="69.5" y2="2096.9" class="ax"/>
<line x1="60.5" y1="2074.5" x2="69.5" y2="2074.5" class="ax"/>
<text x="55" y="2079.3" class="tl" text-anchor="end">-10</text>
<line x1="64.5" y1="2052.2" x2="69.5" y2="2052.2" class="ax"/>
<line x1="60.5" y1="2029.9" x2="69.5" y2="2029.9" class="ax"/>
<text x="55" y="2034.7" class="tl" text-anchor="end">0</text>
<line x1="64.5" y1="2007.6" x2="69.5" y2="2007.6" class="ax"/>
<line x1="60.5" y1="1985.3" x2="69.5" y2="1985.3" class="ax"/>
<text x="55" y="1990.1" class="tl" text-anchor="end">10</text>
<line x1="64.5" y1="1962.9" x2="69.5" y2="1962.9" class="ax"/>
<line x1="60.5" y1="1940.6" x2="69.5" y2="1940.6" class="ax"/>
<text x="55" y="1945.4" class="tl" text-anchor="end">20</text>
<line x1="64.5" y1="1918.3" x2="69.5" y2="1918.3" class="ax"/>
<line x1="60.5" y1="1896" x2="69.5" y2="1896" class="ax"/>
<text x="55" y="1900.8" class="tl" text-anchor="end">30</text>
<line x1="64.5" y1="1873.7" x2="69.5" y2="1873.7" class="ax"/>
<line x1="60.5" y1="1851.3" x2="69.5" y2="1851.3" class="ax"/>
<text x="55" y="1856.1" class="tl" text-anchor="end">40</text>
<line x1="64.5" y1="1829" x2="69.5" y2="1829" class="ax"/>
<line x1="60.5" y1="1806.7" x2="69.5" y2="1806.7" class="ax"/>
<text x="55" y="1811.5" class="tl" text-anchor="end">50</text>
<line x1="69.5" y1="2031.8" x2="613.5" y2="2031.8" class="ax"/>
<text x="69.5" y="2058.6" class="tl" text-anchor="middle">0</text>
<line x1="96.7" y1="2031.8" x2="96.7" y2="2036.8" class="ax"/>
<line x1="123.8" y1="2031.8" x2="123.8" y2="2040.5" class="ax"/>
<text x="123.8" y="2058.6" class="tl" text-anchor="middle">10</text>
<line x1="150.9" y1="2031.8" x2="150.9" y2="2036.8" class="ax"/>
<line x1="178.1" y1="2031.8" x2="178.1" y2="2040.5" class="ax"/>
<text x="178.1" y="2058.6" class="tl" text-anchor="middle">20</text>
<line x1="205.2" y1="2031.8" x2="205.2" y2="2036.8" class="ax"/>
<line x1="232.4" y1="2031.8" x2="232.4" y2="2040.5" class="ax"/>
<text x="232.4" y="2058.6" class="tl" text-anchor="middle">30</text>
<line x1="259.5" y1="2031.8" x2="259.5" y2="2036.8" class="ax"/>
<line x1="286.7" y1="2031.8" x2="286.7" y2="2040.5" class="ax"/>
<text x="286.7" y="2058.6" class="tl" text-anchor="middle">40</text>
<line x1="313.9" y1="2031.8" x2="313.9" y2="2036.8" class="ax"/>
<line x1="341" y1="2031.8" x2="341" y2="2040.5" class="ax"/>
<text x="341" y="2058.6" class="tl" text-anchor="middle">50</text>
<line x1="368.1" y1="2031.8" x2="368.1" y2="2036.8" class="ax"/>
<line x1="395.3" y1="2031.8" x2="395.3" y2="2040.5" class="ax"/>
<text x="395.3" y="2058.6" class="tl" text-anchor="middle">60</text>
<line x1="422.4" y1="2031.8" x2="422.4" y2="2036.8" class="ax"/>
<line x1="449.6" y1="2031.8" x2="449.6" y2="2040.5" class="ax"/>
<text x="449.6" y="2058.6" class="tl" text-anchor="middle">70</text>
<line x1="476.8" y1="2031.8" x2="476.8" y2="2036.8" class="ax"/>
<line x1="503.9" y1="2031.8" x2="503.9" y2="2040.5" class="ax"/>
<text x="503.9" y="2058.6" class="tl" text-anchor="middle">80</text>
<line x1="531" y1="2031.8" x2="531" y2="2036.8" class="ax"/>
<line x1="558.2" y1="2031.8" x2="558.2" y2="2040.5" class="ax"/>
<text x="558.2" y="2058.6" class="tl" text-anchor="middle">90</text>
<line x1="585.4" y1="2031.8" x2="585.4" y2="2036.8" class="ax"/>
<line x1="612.5" y1="2031.8" x2="612.5" y2="2040.5" class="ax"/>
<text x="612.5" y="2058.6" class="tl" text-anchor="middle">100</text>
<text transform="translate(23.4 2010.5) rotate(-90)" class="ti" text-anchor="middle" textLength="206.4" lengthAdjust="spacingAndGlyphs">Ankle Joint Angle (deg)</text>
<path d="M74.1 2153.2C75.3 2151.1 78.9 2145.5 81.5 2140.8C84.1 2136.1 86.7 2131.1 89.9 2124.8C93.1 2118.5 97.2 2109.1 100.7 2103.2C104.2 2097.3 107.3 2094 110.6 2089.2C113.9 2084.4 117.3 2079.1 120.5 2074.3C123.7 2069.5 126.2 2065.2 130 2060.3C133.8 2055.4 139.3 2049.3 143 2045C146.7 2040.7 149.4 2037.5 152.1 2034.6C154.8 2031.6 157.1 2029.4 159.3 2027.3C161.6 2025.2 163.2 2024 165.6 2021.9C168 2019.8 171.1 2016.7 173.7 2014.7C176.3 2012.7 177.9 2011.8 181 2009.7C184.1 2007.6 188.2 2004.5 192 2002C195.8 1999.5 200.1 1997.5 204.1 1995C208.1 1992.5 212.1 1989.2 216.1 1986.7C220.1 1984.2 224.1 1981.9 228.1 1980.1C232.1 1978.3 236.2 1977.2 240.2 1975.9C244.2 1974.6 248.9 1973.3 252.2 1972.3C255.5 1971.3 257 1970.9 260 1969.9C263 1969 264.8 1968 270 1966.6C275.2 1965.2 284.5 1963.2 291.4 1961.4C298.3 1959.6 303.8 1957.8 311.4 1955.7C319 1953.6 329 1950.8 337.1 1948.6C345.2 1946.4 352.4 1944.4 360 1942.5C367.6 1940.6 374.3 1939 382.9 1937.1C391.5 1935.2 404.4 1932.3 411.4 1930.9C418.4 1929.5 418.7 1930.4 425 1928.7C431.3 1927 440.6 1924.1 449.1 1920.9C457.6 1917.8 467.1 1914.2 476.1 1909.8C485.1 1905.4 494.2 1899.6 503.2 1894.7C512.2 1889.8 521.3 1885.2 530.3 1880.6C539.3 1875.9 548.3 1871.2 557.3 1866.8C566.3 1862.4 575.1 1857.8 584.4 1854.1C593.7 1850.4 608.2 1846.1 613 1844.5" stroke="#000" stroke-width="3.0"/>
<path d="M75.4 2127.3 L75.9 2126.7 L76.4 2125.9 L76.9 2125.1 L77.5 2124.2 L78 2123.3 L78.6 2122.4 L79.1 2121.5 L79.7 2120.6 L80 2120M86.4 2107.3 L86.8 2106.6 L87.3 2105.8 L87.8 2105.1 L88.3 2104.4 L88.8 2103.7 L89.3 2103 L89.8 2102.3 L90.2 2101.5 L90.7 2100.7 L91.1 2100M96.7 2087.3 L97.2 2086.5 L97.7 2085.6 L98.2 2084.6 L98.8 2083.7 L99.4 2082.8 L99.9 2081.9 L100.5 2081 L101.1 2080.1 L101.2 2080M109.3 2067.3 L109.6 2066.9 L110.1 2066.1 L110.7 2065.4 L111.3 2064.6 L111.8 2063.9 L112.4 2063.1 L112.9 2062.4 L113.5 2061.6 L114.1 2060.9 L114.6 2060.1 L114.7 2060M123.3 2047.3 L123.7 2046.9 L124.2 2046.4 L124.7 2045.8 L125.3 2045.2 L125.9 2044.5 L126.6 2043.7 L127.4 2042.8 L128.2 2041.8 L129.1 2040.7 L129.7 2040M139.7 2027.3 L140.5 2026.4 L141.8 2024.8 L143.1 2023.2 L144.4 2021.6 L145.7 2020M156.6 2007.3 L157.3 2006.6 L158.5 2005.2 L159.7 2004 L160.7 2002.9 L161.8 2001.9 L162.7 2001 L163.7 2000.2 L163.7 2000.2M176.4 1990.4 L176.8 1990.1 L177.6 1989.5 L178.5 1988.9 L179.5 1988.3 L180.5 1987.5 L181.6 1986.8 L182.8 1985.9 L183.7 1985.3M196.4 1976.3 L197.1 1975.8 L198 1975.2 L198.7 1974.6 L199.5 1974.1 L200.3 1973.6 L201 1973.1 L201.8 1972.5 L202.5 1972 L203.3 1971.5 L203.7 1971.2M216.4 1962.7 L217.1 1962.3 L217.9 1961.9 L218.7 1961.5 L219.5 1961.1 L220.2 1960.7 L221 1960.3 L221.8 1960 L222.6 1959.6 L223.5 1959.3 L223.7 1959.2M236.4 1954.9 L236.8 1954.7 L237.6 1954.4 L238.4 1954.1 L239.2 1953.8 L240 1953.5 L240.8 1953.2 L241.6 1952.9 L242.4 1952.6 L243.2 1952.3 L243.7 1952.1M256.4 1947.6 L257 1947.4 L258 1947.1 L258.9 1946.8 L259.9 1946.5 L261 1946.2 L262.1 1945.9 L263.3 1945.6 L263.7 1945.5M276.4 1942.6 L278.2 1942.2 L280.7 1941.7 L283.2 1941.2 L283.7 1941.1M296.4 1938.7 L298.3 1938.4 L300.7 1938 L303.1 1937.6 L303.7 1937.5M316.4 1935.7 L318.5 1935.3 L320.9 1935 L323.3 1934.7 L323.7 1934.6M336.4 1932.8 L337.6 1932.6 L340 1932.3 L342.4 1932 L343.7 1931.8M356.4 1929.6 L357.9 1929.3 L360.4 1928.8 L362.8 1928.2 L363.7 1928.1M376.4 1925.1 L378.5 1924.5 L380.7 1924 L382.9 1923.4 L383.7 1923.2M396.4 1919.5 L397.7 1919 L399.5 1918.5 L401.3 1917.9 L403.1 1917.4 L403.7 1917.2M416.4 1914 L417.1 1913.8 L418.7 1913.4 L420.3 1912.9 L422.1 1912.3 L423.7 1911.8M436.4 1906.3 L438.1 1905.5 L440.7 1904.3 L443.3 1903 L443.7 1902.9M456.4 1897.2 L458.9 1896.1 L461.4 1895.1 L463.7 1894.3M476.4 1889.4 L477.7 1888.9 L480.2 1887.9 L482.7 1886.8 L483.7 1886.4M496.4 1880.3 L497.7 1879.6 L500.2 1878.3 L502.7 1877 L503.7 1876.5M516.4 1870.2 L517.7 1869.5 L520.2 1868.4 L522.7 1867.2 L523.7 1866.8M536.4 1861.2 L537.8 1860.6 L540.3 1859.4 L542.8 1858.3 L543.7 1857.9M556.4 1851.6 L557.8 1850.8 L560.3 1849.5 L562.9 1848.2 L563.7 1847.8M576.4 1841.7 L578 1841 L580.8 1839.8 L583.6 1838.6 L583.7 1838.6M596.4 1833.6 L597.7 1833.1 L600.1 1832.2 L602.2 1831.4 L603.7 1830.8" stroke="#000" stroke-width="3.0"/>
<path d="M73.7 2032C77.6 2031.9 89.9 2031.8 97.1 2031.4C104.3 2031 109.9 2030.2 117.1 2029.5C124.2 2028.8 132.9 2027.9 140 2027.2C147.1 2026.5 153.1 2026.1 159.6 2025.3C166.1 2024.5 172.6 2023.2 179.1 2022.3C185.6 2021.4 192.2 2020.8 198.7 2020C205.2 2019.2 211.7 2018.2 218.2 2017.4C224.7 2016.7 231.3 2016 237.8 2015.5C244.3 2015 247.4 2014.5 257.3 2014.5C267.2 2014.5 285.7 2015.1 297.1 2015.2C308.5 2015.3 316.2 2015.2 325.7 2014.9C335.2 2014.7 344.8 2013.9 354.3 2013.7C363.8 2013.5 373.4 2013.7 382.9 2013.7C392.4 2013.7 403.5 2013.8 411.4 2013.7C419.2 2013.6 422.7 2013.2 430 2013C437.3 2012.8 445.9 2013 455.1 2012.5C464.3 2012 475.2 2010.6 485.2 2010.1C495.2 2009.5 505.2 2009.5 515.2 2009.2C525.2 2009 535.3 2008.8 545.3 2008.6C555.3 2008.3 564.1 2008 575.4 2007.7C586.7 2007.4 606.7 2006.7 613 2006.5" stroke="#5a5a5a" stroke-width="2.6"/>
<path d="M75.5 2036.6 L76.6 2036.6 L78.1 2036.7 L79.8 2036.7 L81.6 2036.7 L83.2 2036.7M95.5 2036.5 L97 2036.5 L98.9 2036.4 L100.8 2036.2 L102.7 2036.1 L103.2 2036.1M115.5 2035 L117.1 2034.9 L119 2034.7 L120.9 2034.6 L122.8 2034.4 L123.2 2034.4M135.5 2033.3 L137.1 2033.1 L139 2033 L141 2032.8 L142.9 2032.7 L143.2 2032.7M155.5 2031.8 L157.2 2031.7 L159.1 2031.6 L161 2031.5 L162.9 2031.4 L163.2 2031.4M175.5 2031.2 L176.6 2031.2 L178.5 2031.2 L180.4 2031.2 L182.2 2031.1 L183.2 2031.1M195.5 2029.5 L196.7 2029.3 L198.1 2029 L199.4 2028.7 L200.8 2028.4 L202.2 2028.1 L203.2 2027.9M215.5 2025.2 L216.2 2025 L217.7 2024.7 L219.2 2024.4 L220.8 2024.2 L222.3 2023.9 L223.2 2023.8M235.5 2022.4 L237.1 2022.3 L239 2022.1 L241 2021.9 L243.2 2021.7 L243.2 2021.7M255.5 2020.4 L257.5 2020.3 L260 2020 L262.5 2019.8 L263.2 2019.8M275.5 2019.1 L276.9 2019 L279.3 2018.9 L281.7 2018.9 L283.2 2018.8M295.5 2018.6 L297.1 2018.6 L299.5 2018.6 L301.9 2018.6 L303.2 2018.6M315.5 2018.6 L317.4 2018.6 L319.7 2018.6 L322.1 2018.6 L323.2 2018.6M335.5 2018.4 L337.6 2018.3 L340 2018.2 L342.4 2018.1 L343.2 2018.1M355.5 2017.7 L357.9 2017.6 L360.3 2017.5 L362.6 2017.4 L363.2 2017.4M375.5 2016.9 L376.9 2016.8 L379.3 2016.7 L381.7 2016.6 L383.2 2016.6M395.5 2016.2 L397.8 2016.1 L400.2 2016.1 L402.6 2016 L403.2 2016M415.5 2015.6 L416.6 2015.5 L418.1 2015.5 L419.5 2015.4 L420.9 2015.4 L422.3 2015.3 L423.2 2015.3M435.5 2014.5 L436.7 2014.4 L438.7 2014.3 L440.8 2014.1 L442.9 2013.9 L443.2 2013.9M455.5 2013 L457.4 2012.8 L459.8 2012.7 L462.3 2012.5 L463.2 2012.4M475.5 2011.6 L477.6 2011.4 L480.1 2011.3 L482.7 2011.1 L483.2 2011.1M495.5 2010.6 L497.7 2010.5 L500.2 2010.4 L502.7 2010.4 L503.2 2010.3M515.5 2010 L517.7 2009.9 L520.2 2009.9 L522.7 2009.8 L523.2 2009.8M535.5 2009.5 L537.8 2009.4 L540.3 2009.3 L542.8 2009.3 L543.2 2009.3M555.5 2008.9 L557.8 2008.9 L560.3 2008.8 L562.9 2008.7 L563.2 2008.7M575.5 2008.3 L578 2008.2 L580.8 2008.1 L583.2 2008M595.5 2007.5 L597.7 2007.4 L600.1 2007.2 L602.2 2007.1 L603.2 2007.1" stroke="#5a5a5a" stroke-width="2.6"/>
<path d="M73.7 2012.9C75.2 2012.8 79.5 2012.3 82.9 2012C86.3 2011.7 90.5 2010.8 94.3 2010.9C98.1 2011.1 101.9 2011.6 105.7 2012.9C109.5 2014.2 113.3 2016.2 117.1 2018.6C120.9 2021 124.3 2024.5 128.6 2027.1C132.9 2029.7 137.7 2032.1 142.9 2034.3C148.1 2036.5 154.8 2037.9 160 2040C165.2 2042.1 169.5 2044.5 174.3 2047.1C179.1 2049.7 183.4 2053.3 188.6 2055.7C193.8 2058.1 200.5 2059.2 205.7 2061.4C210.9 2063.6 215.2 2066 220 2068.6C224.8 2071.2 229.1 2074.2 234.3 2077.1C239.5 2079.9 247.1 2084 251.4 2085.7C255.7 2087.4 255.7 2087.3 260 2087.1C264.3 2086.9 270.9 2085.5 277.1 2084.3C283.3 2083.1 289.5 2081.6 297.1 2080C304.7 2078.4 314.3 2075.5 322.9 2074.9C331.5 2074.3 339.6 2075.8 348.6 2076.6C357.6 2077.3 368.1 2078.3 377.1 2079.4C386.2 2080.5 394.9 2081.9 402.9 2082.9C410.9 2083.9 417.3 2084.2 425 2085.3C432.7 2086.5 441.1 2087.8 449.1 2089.8C457.1 2091.8 465.1 2094.8 473.1 2097.3C481.1 2099.8 489.2 2102.6 497.2 2104.8C505.2 2107.1 513.2 2109.2 521.2 2110.8C529.2 2112.5 537.3 2113.3 545.3 2114.7C553.3 2116 561.4 2117.7 569.4 2118.9C577.4 2120.1 586.1 2121.1 593.4 2122C600.7 2122.9 609.7 2124 613 2124.4" stroke="#acacac" stroke-width="2.5"/>
<path d="M75.5 2013.3 L76.6 2013.1 L78.1 2012.8 L79.8 2012.5 L81.6 2012.2 L83.2 2012M95.5 2011.6 L97 2011.8 L98.9 2012.1 L100.7 2012.5 L102.6 2012.9 L103.2 2013.1M115.5 2017.3 L117.1 2018 L119.2 2019 L121.3 2020.2 L123.2 2021.4M135.4 2029.5 L137 2030.5 L139.1 2031.8 L141 2033 L142.9 2034 L143.2 2034.2M155.4 2037.9 L156.8 2038.4 L158.3 2039.1 L160 2040 L161.9 2041.1 L163.2 2042.1M175.4 2051.4 L177.4 2052.9 L179.7 2054.6 L181.8 2056.1 L183.2 2057.1M195.4 2062.6 L196.2 2062.8 L197.5 2063.1 L198.8 2063.4 L200.1 2063.7 L201.5 2064 L202.9 2064.3 L203.2 2064.4M215.4 2066.5 L216.2 2066.6 L217.7 2066.8 L219.2 2067 L220.8 2067.2 L222.4 2067.4 L223.2 2067.6M235.4 2069.1 L236.8 2069.4 L238.4 2069.7 L240 2070 L241.5 2070.4 L243 2070.8 L243.2 2070.9M255.4 2075.2 L256.4 2075.5 L257.8 2075.9 L259.2 2076.3 L260.6 2076.7 L261.9 2077.1 L263.2 2077.5M275.4 2079.4 L276.9 2079.4 L278.7 2079.3 L280.6 2079.2 L282.6 2079.1 L283.2 2079M295.4 2077.4 L297.1 2077.1 L298.9 2076.8 L300.6 2076.5 L302.2 2076.2 L303.2 2076M315.4 2073.2 L317.1 2072.9 L318.9 2072.6 L320.7 2072.2 L322.6 2071.9 L323.2 2071.8M335.4 2069.8 L337 2069.5 L339 2069.2 L341 2069 L343.1 2068.7 L343.2 2068.7M355.4 2067.2 L357.2 2067 L359.4 2066.8 L361.5 2066.6 L363.2 2066.5M375.4 2065.7 L377.3 2065.7 L379.2 2065.6 L381.1 2065.6 L382.9 2065.6 L383.2 2065.6M395.4 2066.2 L396.5 2066.3 L398.6 2066.5 L400.6 2066.8 L402.6 2067 L403.2 2067.1M415.4 2068.2 L416.2 2068.2 L417.2 2068.2 L418.1 2068.2 L419.1 2068.2 L420 2068.2 L421.1 2068.3 L422.2 2068.4 L423.2 2068.5M435.4 2070.4 L437.5 2070.8 L439.6 2071.2 L441.8 2071.7 L443.2 2072M455.4 2074.6 L457.1 2075 L459.1 2075.5 L461.1 2076 L463.1 2076.5 L463.2 2076.5M475.4 2079.9 L477.1 2080.4 L479.1 2081 L481.1 2081.7 L483.1 2082.3 L483.2 2082.4M495.4 2086.3 L497.2 2086.8 L499.2 2087.4 L501.2 2087.9 L503.2 2088.4 L503.2 2088.4M515.5 2091.5 L517.2 2091.9 L519.2 2092.3 L521.2 2092.8 L523.2 2093.3 L523.2 2093.3M535.5 2095.9 L537.3 2096.3 L539.3 2096.7 L541.3 2097.1 L543.2 2097.5M555.5 2100 L557.4 2100.4 L559.4 2100.8 L561.4 2101.2 L563.2 2101.5M575.5 2103.8 L576.8 2104 L578.9 2104.4 L581.1 2104.8 L583.2 2105.2 L583.2 2105.2M595.5 2107.2 L596.2 2107.4 L597.5 2107.6 L598.8 2107.7 L599.9 2107.9 L601 2108.1 L601.9 2108.2 L602.8 2108.3 L603.2 2108.4" stroke="#acacac" stroke-width="2.5"/></g>
<g><path d="M487.5 10.6H531" stroke="#000" stroke-width="3.2"/>
<text x="537.5" y="16.8" class="lg">X-Single Task</text>
<path d="M488 35.1H494.8M507.5 35.1H514.8M527 35.1H531" stroke="#000" stroke-width="3.2"/>
<text x="537.5" y="41.5" class="lg">X-Dual Task</text>
<path d="M487.5 59.6H531" stroke="#5a5a5a" stroke-width="2.8000000000000003"/>
<text x="537.5" y="66.1" class="lg">Y-Single Task</text>
<path d="M488 84.1H494.8M507.5 84.1H514.8M527 84.1H531" stroke="#5a5a5a" stroke-width="2.8000000000000003"/>
<text x="537.5" y="90.8" class="lg">Y-Dual Task</text>
<path d="M487.5 108.6H531" stroke="#acacac" stroke-width="2.7"/>
<text x="537.5" y="115.4" class="lg">Z-Single Task</text>
<path d="M488 133.1H494.8M507.5 133.1H514.8M527 133.1H531" stroke="#acacac" stroke-width="2.7"/>
<text x="537.5" y="140.1" class="lg">Z-Dual Task</text></g>
<text x="360.8" y="2195.6" class="ti" text-anchor="middle">Time(%)</text>
</svg>
</body></html>
